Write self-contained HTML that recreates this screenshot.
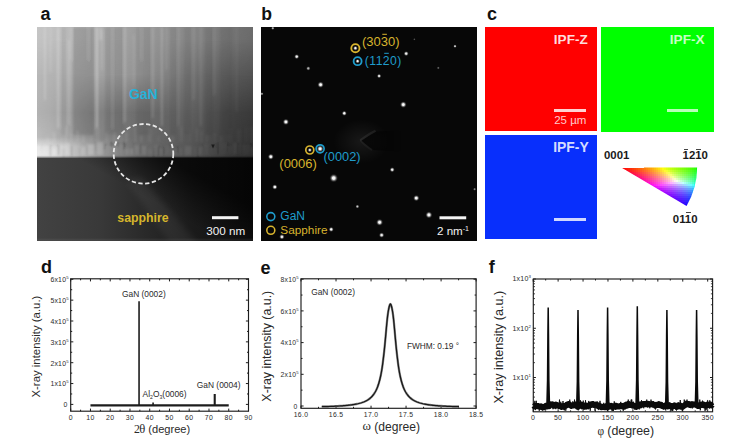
<!DOCTYPE html>
<html><head><meta charset="utf-8"><title>figure</title>
<style>
html,body{margin:0;padding:0;background:#fff;}
body{width:752px;height:446px;position:relative;overflow:hidden;font-family:"Liberation Sans",sans-serif;}
.abs{position:absolute;}
.lbl{position:absolute;font-weight:bold;font-size:18px;line-height:18px;color:#111;}
.t{position:absolute;white-space:nowrap;line-height:1;}
svg{position:absolute;left:0;top:0;}
svg text{font-family:"Liberation Sans",sans-serif;}
svg text.sf{font-family:"Liberation Serif",serif;}
</style></head><body>

<div class="lbl" style="left:40.5px;top:4.5px;font-size:18px;">a</div>
<div class="lbl" style="left:261.2px;top:4.800000000000001px;font-size:17.6px;">b</div>
<div class="lbl" style="left:487px;top:4.600000000000001px;font-size:18px;">c</div>
<div class="lbl" style="left:40.9px;top:258.0px;font-size:18px;">d</div>
<div class="lbl" style="left:260.5px;top:258.8px;font-size:18px;">e</div>
<div class="lbl" style="left:488.7px;top:257.8px;font-size:18px;">f</div>
<svg width="752" height="446" viewBox="0 0 752 446">
<defs><clipPath id="ca"><rect x="37" y="27" width="216" height="214"/></clipPath>
<linearGradient id="ar0" gradientUnits="userSpaceOnUse" x1="37" x2="253" y1="0" y2="0"><stop offset="0.0000" stop-color="#c6c6c6"/><stop offset="0.0602" stop-color="#c2c2c2"/><stop offset="0.2917" stop-color="#acacac"/><stop offset="0.4769" stop-color="#9c9c9c"/><stop offset="0.7083" stop-color="#888888"/><stop offset="0.9167" stop-color="#727272"/><stop offset="1.0000" stop-color="#6c6c6c"/></linearGradient>
<linearGradient id="ar1" gradientUnits="userSpaceOnUse" x1="37" x2="253" y1="0" y2="0"><stop offset="0.0000" stop-color="#c4c4c4"/><stop offset="0.0602" stop-color="#c0c0c0"/><stop offset="0.2917" stop-color="#aaaaaa"/><stop offset="0.4769" stop-color="#9a9a9a"/><stop offset="0.7083" stop-color="#868686"/><stop offset="0.9167" stop-color="#707070"/><stop offset="1.0000" stop-color="#6a6a6a"/></linearGradient>
<linearGradient id="am1" gradientUnits="userSpaceOnUse" x1="0" x2="0" y1="27" y2="40"><stop offset="0" stop-color="#fff" stop-opacity="0"/><stop offset="1" stop-color="#fff" stop-opacity="1"/></linearGradient>
<mask id="amk1" maskUnits="userSpaceOnUse" x="37" y="27" width="216" height="214"><rect x="37" y="27" width="216" height="214" fill="url(#am1)"/></mask>
<linearGradient id="ar2" gradientUnits="userSpaceOnUse" x1="37" x2="253" y1="0" y2="0"><stop offset="0.0000" stop-color="#b8b8b8"/><stop offset="0.0602" stop-color="#b4b4b4"/><stop offset="0.2917" stop-color="#a2a2a2"/><stop offset="0.4769" stop-color="#929292"/><stop offset="0.7083" stop-color="#727272"/><stop offset="0.9167" stop-color="#585858"/><stop offset="1.0000" stop-color="#525252"/></linearGradient>
<linearGradient id="am2" gradientUnits="userSpaceOnUse" x1="0" x2="0" y1="40" y2="75"><stop offset="0" stop-color="#fff" stop-opacity="0"/><stop offset="1" stop-color="#fff" stop-opacity="1"/></linearGradient>
<mask id="amk2" maskUnits="userSpaceOnUse" x="37" y="27" width="216" height="214"><rect x="37" y="40" width="216" height="201" fill="url(#am2)"/></mask>
<linearGradient id="ar3" gradientUnits="userSpaceOnUse" x1="37" x2="253" y1="0" y2="0"><stop offset="0.0000" stop-color="#b2b2b2"/><stop offset="0.0602" stop-color="#acacac"/><stop offset="0.2917" stop-color="#828282"/><stop offset="0.4769" stop-color="#6c6c6c"/><stop offset="0.7083" stop-color="#606060"/><stop offset="0.9167" stop-color="#404040"/><stop offset="1.0000" stop-color="#3a3a3a"/></linearGradient>
<linearGradient id="am3" gradientUnits="userSpaceOnUse" x1="0" x2="0" y1="75" y2="112"><stop offset="0" stop-color="#fff" stop-opacity="0"/><stop offset="1" stop-color="#fff" stop-opacity="1"/></linearGradient>
<mask id="amk3" maskUnits="userSpaceOnUse" x="37" y="27" width="216" height="214"><rect x="37" y="75" width="216" height="166" fill="url(#am3)"/></mask>
<linearGradient id="ar4" gradientUnits="userSpaceOnUse" x1="37" x2="253" y1="0" y2="0"><stop offset="0.0000" stop-color="#bababa"/><stop offset="0.0602" stop-color="#b4b4b4"/><stop offset="0.2917" stop-color="#868686"/><stop offset="0.4769" stop-color="#6a6a6a"/><stop offset="0.7083" stop-color="#585858"/><stop offset="0.9167" stop-color="#3a3a3a"/><stop offset="1.0000" stop-color="#343434"/></linearGradient>
<linearGradient id="am4" gradientUnits="userSpaceOnUse" x1="0" x2="0" y1="112" y2="137"><stop offset="0" stop-color="#fff" stop-opacity="0"/><stop offset="1" stop-color="#fff" stop-opacity="1"/></linearGradient>
<mask id="amk4" maskUnits="userSpaceOnUse" x="37" y="27" width="216" height="214"><rect x="37" y="112" width="216" height="129" fill="url(#am4)"/></mask>
<linearGradient id="ar5" gradientUnits="userSpaceOnUse" x1="37" x2="253" y1="0" y2="0"><stop offset="0.0000" stop-color="#e4e4e4"/><stop offset="0.0602" stop-color="#dedede"/><stop offset="0.2917" stop-color="#969696"/><stop offset="0.4769" stop-color="#6c6c6c"/><stop offset="0.7083" stop-color="#565656"/><stop offset="0.9167" stop-color="#373737"/><stop offset="1.0000" stop-color="#313131"/></linearGradient>
<linearGradient id="am5" gradientUnits="userSpaceOnUse" x1="0" x2="0" y1="137" y2="147"><stop offset="0" stop-color="#fff" stop-opacity="0"/><stop offset="1" stop-color="#fff" stop-opacity="1"/></linearGradient>
<mask id="amk5" maskUnits="userSpaceOnUse" x="37" y="27" width="216" height="214"><rect x="37" y="137" width="216" height="104" fill="url(#am5)"/></mask>
<linearGradient id="ar6" gradientUnits="userSpaceOnUse" x1="37" x2="253" y1="0" y2="0"><stop offset="0.0000" stop-color="#eaeaea"/><stop offset="0.0602" stop-color="#e4e4e4"/><stop offset="0.2917" stop-color="#989898"/><stop offset="0.4769" stop-color="#686868"/><stop offset="0.7083" stop-color="#545454"/><stop offset="0.9167" stop-color="#343434"/><stop offset="1.0000" stop-color="#2e2e2e"/></linearGradient>
<linearGradient id="am6" gradientUnits="userSpaceOnUse" x1="0" x2="0" y1="147" y2="157.5"><stop offset="0" stop-color="#fff" stop-opacity="0"/><stop offset="1" stop-color="#fff" stop-opacity="1"/></linearGradient>
<mask id="amk6" maskUnits="userSpaceOnUse" x="37" y="27" width="216" height="214"><rect x="37" y="147" width="216" height="94" fill="url(#am6)"/></mask>
<linearGradient id="aS" gradientUnits="userSpaceOnUse" x1="37" x2="253" y1="0" y2="0"><stop offset="0" stop-color="#424242"/><stop offset="0.29" stop-color="#393939"/><stop offset="0.48" stop-color="#2b2b2b"/><stop offset="0.71" stop-color="#1b1b1b"/><stop offset="1" stop-color="#0f0f0f"/></linearGradient>
<linearGradient id="aD" gradientUnits="userSpaceOnUse" x1="172.6" y1="213" x2="194.9" y2="174"><stop offset="0" stop-color="#000" stop-opacity="0"/><stop offset="0.35" stop-color="#000" stop-opacity="0.22"/><stop offset="1" stop-color="#000" stop-opacity="0.66"/></linearGradient>
<filter id="ab" x="-20%" y="-20%" width="140%" height="140%"><feGaussianBlur stdDeviation="0.9 1.6"/></filter>
<filter id="ab2" x="-20%" y="-20%" width="140%" height="140%"><feGaussianBlur stdDeviation="0.8"/></filter>
<filter id="ab3" x="-30%" y="-30%" width="160%" height="160%"><feGaussianBlur stdDeviation="3"/></filter>
</defs>
<g clip-path="url(#ca)">
<rect x="37" y="27" width="216" height="131" fill="url(#ar0)"/>
<rect x="37" y="27" width="216" height="131" fill="url(#ar1)" mask="url(#amk1)"/>
<rect x="37" y="27" width="216" height="131" fill="url(#ar2)" mask="url(#amk2)"/>
<rect x="37" y="27" width="216" height="131" fill="url(#ar3)" mask="url(#amk3)"/>
<rect x="37" y="27" width="216" height="131" fill="url(#ar4)" mask="url(#amk4)"/>
<rect x="37" y="27" width="216" height="131" fill="url(#ar5)" mask="url(#amk5)"/>
<rect x="37" y="27" width="216" height="131" fill="url(#ar6)" mask="url(#amk6)"/>
<g filter="url(#ab)">
<rect x="44" y="27" width="1.8" height="73" fill="#fff" opacity="0.2"/>
<rect x="50" y="27" width="1.2" height="45" fill="#fff" opacity="0.14"/>
<rect x="57" y="27" width="2.4" height="101" fill="#fff" opacity="0.22"/>
<rect x="68" y="40" width="1.6" height="85" fill="#fff" opacity="0.2"/>
<rect x="70" y="27" width="1.2" height="33" fill="#fff" opacity="0.15"/>
<rect x="96" y="27" width="2.0" height="101" fill="#fff" opacity="0.3"/>
<rect x="99.5" y="27" width="2.5" height="13" fill="#fff" opacity="0.2"/>
<rect x="88" y="27" width="1.2" height="33" fill="#fff" opacity="0.14"/>
<rect x="101" y="30" width="1.5" height="40" fill="#fff" opacity="0.16"/>
<rect x="112" y="27" width="1.4" height="101" fill="#fff" opacity="0.14"/>
<rect x="124" y="27" width="1.6" height="95" fill="#fff" opacity="0.22"/>
<rect x="133" y="35" width="1.2" height="50" fill="#fff" opacity="0.12"/>
<rect x="141" y="27" width="1.2" height="33" fill="#fff" opacity="0.12"/>
<rect x="152" y="27" width="1.5" height="91" fill="#fff" opacity="0.18"/>
<rect x="161" y="27" width="1.6" height="99" fill="#fff" opacity="0.22"/>
<rect x="166" y="27" width="1.2" height="43" fill="#fff" opacity="0.14"/>
<rect x="178" y="27" width="1.3" height="99" fill="#fff" opacity="0.12"/>
<rect x="193" y="27" width="1.4" height="73" fill="#fff" opacity="0.12"/>
<rect x="200" y="27" width="1.4" height="99" fill="#fff" opacity="0.12"/>
<rect x="214" y="27" width="1.3" height="68" fill="#fff" opacity="0.1"/>
<rect x="236" y="27" width="1.3" height="85" fill="#fff" opacity="0.07"/>
<rect x="61" y="27" width="5" height="108" fill="#000" opacity="0.05"/>
<rect x="73" y="27" width="21" height="108" fill="#000" opacity="0.13"/>
<rect x="105" y="27" width="19" height="108" fill="#000" opacity="0.08"/>
<rect x="136" y="27" width="8" height="108" fill="#000" opacity="0.05"/>
<rect x="144" y="27" width="7" height="108" fill="#000" opacity="0.06"/>
<rect x="170" y="27" width="7" height="108" fill="#000" opacity="0.05"/>
<rect x="184" y="27" width="7" height="108" fill="#000" opacity="0.06"/>
<rect x="205" y="27" width="8" height="108" fill="#000" opacity="0.06"/>
<rect x="220" y="27" width="12" height="108" fill="#000" opacity="0.05"/>
</g>
<g filter="url(#ab2)">
<rect x="37.0" y="145.2" width="3.6" height="9.8" fill="#fff" opacity="0.14"/>
<rect x="40.6" y="144.0" width="2.1" height="5.5" fill="#000" opacity="0.05"/>
<rect x="42.7" y="147.2" width="6.3" height="7.8" fill="#fff" opacity="0.10"/>
<rect x="49.0" y="145.2" width="3.0" height="10.9" fill="#000" opacity="0.13"/>
<rect x="52.0" y="147.9" width="5.4" height="7.1" fill="#fff" opacity="0.19"/>
<rect x="57.3" y="144.8" width="2.7" height="10.2" fill="#000" opacity="0.16"/>
<rect x="60.0" y="143.7" width="2.8" height="11.3" fill="#fff" opacity="0.17"/>
<rect x="62.8" y="148.8" width="1.5" height="11.1" fill="#000" opacity="0.13"/>
<rect x="64.3" y="142.8" width="5.7" height="12.2" fill="#fff" opacity="0.19"/>
<rect x="70.0" y="145.8" width="2.8" height="10.6" fill="#000" opacity="0.13"/>
<rect x="72.9" y="142.8" width="6.7" height="12.2" fill="#fff" opacity="0.05"/>
<rect x="79.6" y="147.3" width="1.1" height="11.8" fill="#000" opacity="0.12"/>
<rect x="80.7" y="146.9" width="5.3" height="8.1" fill="#fff" opacity="0.13"/>
<rect x="86.0" y="146.2" width="1.6" height="9.1" fill="#000" opacity="0.15"/>
<rect x="87.6" y="144.2" width="6.6" height="10.8" fill="#fff" opacity="0.20"/>
<rect x="94.2" y="141.1" width="2.7" height="9.7" fill="#000" opacity="0.08"/>
<rect x="96.9" y="142.2" width="6.4" height="12.8" fill="#fff" opacity="0.18"/>
<rect x="103.3" y="143.3" width="2.1" height="6.5" fill="#000" opacity="0.19"/>
<rect x="105.3" y="147.0" width="5.1" height="8.0" fill="#fff" opacity="0.03"/>
<rect x="110.4" y="141.1" width="2.7" height="5.6" fill="#000" opacity="0.19"/>
<rect x="113.1" y="147.9" width="4.3" height="7.1" fill="#fff" opacity="0.06"/>
<rect x="117.4" y="142.0" width="2.5" height="5.3" fill="#000" opacity="0.15"/>
<rect x="119.9" y="144.0" width="2.7" height="11.0" fill="#fff" opacity="0.06"/>
<rect x="122.6" y="141.2" width="2.7" height="8.5" fill="#000" opacity="0.22"/>
<rect x="125.4" y="148.5" width="3.9" height="6.5" fill="#fff" opacity="0.09"/>
<rect x="129.2" y="147.4" width="0.9" height="7.9" fill="#000" opacity="0.15"/>
<rect x="130.1" y="148.7" width="3.2" height="6.3" fill="#fff" opacity="0.12"/>
<rect x="133.3" y="141.3" width="1.5" height="11.3" fill="#000" opacity="0.11"/>
<rect x="134.8" y="145.4" width="4.6" height="9.6" fill="#fff" opacity="0.09"/>
<rect x="139.4" y="144.5" width="2.1" height="9.3" fill="#000" opacity="0.21"/>
<rect x="141.5" y="146.0" width="4.8" height="9.0" fill="#fff" opacity="0.09"/>
<rect x="146.3" y="146.6" width="1.3" height="11.8" fill="#000" opacity="0.14"/>
<rect x="147.6" y="148.9" width="5.0" height="6.1" fill="#fff" opacity="0.05"/>
<rect x="152.6" y="148.8" width="2.1" height="9.3" fill="#000" opacity="0.16"/>
<rect x="154.6" y="144.6" width="2.8" height="10.4" fill="#fff" opacity="0.05"/>
<rect x="157.4" y="146.2" width="2.3" height="9.9" fill="#000" opacity="0.18"/>
<rect x="159.7" y="148.6" width="2.6" height="6.4" fill="#fff" opacity="0.06"/>
<rect x="162.3" y="147.0" width="2.9" height="8.2" fill="#000" opacity="0.15"/>
<rect x="165.2" y="146.5" width="3.9" height="8.5" fill="#fff" opacity="0.03"/>
<rect x="169.2" y="144.2" width="1.6" height="7.1" fill="#000" opacity="0.11"/>
<rect x="170.8" y="148.8" width="6.0" height="6.2" fill="#fff" opacity="0.05"/>
<rect x="176.7" y="146.5" width="2.4" height="6.6" fill="#000" opacity="0.19"/>
<rect x="179.2" y="147.7" width="3.6" height="7.3" fill="#fff" opacity="0.04"/>
<rect x="182.7" y="148.2" width="2.3" height="7.3" fill="#000" opacity="0.11"/>
<rect x="185.1" y="145.9" width="6.3" height="9.1" fill="#fff" opacity="0.07"/>
<rect x="191.3" y="146.3" width="1.2" height="9.6" fill="#000" opacity="0.20"/>
<rect x="192.5" y="147.4" width="4.5" height="7.6" fill="#fff" opacity="0.02"/>
<rect x="197.0" y="147.5" width="2.0" height="10.6" fill="#000" opacity="0.19"/>
<rect x="199.0" y="147.0" width="3.3" height="8.0" fill="#fff" opacity="0.06"/>
<rect x="202.3" y="142.5" width="2.2" height="7.4" fill="#000" opacity="0.07"/>
<rect x="204.5" y="143.4" width="3.8" height="11.6" fill="#fff" opacity="0.03"/>
<rect x="208.3" y="145.7" width="1.6" height="7.9" fill="#000" opacity="0.12"/>
<rect x="209.9" y="147.9" width="6.6" height="7.1" fill="#fff" opacity="0.01"/>
<rect x="216.6" y="142.0" width="2.9" height="11.9" fill="#000" opacity="0.12"/>
<rect x="219.4" y="142.5" width="6.8" height="12.5" fill="#fff" opacity="0.02"/>
<rect x="226.2" y="142.3" width="2.4" height="9.6" fill="#000" opacity="0.14"/>
<rect x="228.6" y="146.6" width="3.8" height="8.4" fill="#fff" opacity="0.02"/>
<rect x="232.4" y="144.3" width="0.9" height="7.0" fill="#000" opacity="0.19"/>
<rect x="233.4" y="142.7" width="2.7" height="12.3" fill="#fff" opacity="0.06"/>
<rect x="236.1" y="141.8" width="2.8" height="11.3" fill="#000" opacity="0.15"/>
<rect x="238.9" y="143.8" width="2.6" height="11.2" fill="#fff" opacity="0.02"/>
<rect x="241.5" y="143.7" width="1.5" height="8.7" fill="#000" opacity="0.12"/>
<rect x="242.9" y="144.7" width="6.7" height="10.3" fill="#fff" opacity="0.03"/>
<rect x="249.7" y="142.1" width="1.4" height="8.3" fill="#000" opacity="0.18"/>
<rect x="251.0" y="147.6" width="4.1" height="7.4" fill="#fff" opacity="0.04"/>
<rect x="255.1" y="147.6" width="2.6" height="10.5" fill="#000" opacity="0.21"/>
<rect x="37.0" y="127.9" width="3.5" height="14.1" fill="#fff" opacity="0.04"/>
<rect x="45.7" y="136.5" width="3.7" height="5.5" fill="#fff" opacity="0.07"/>
<rect x="52.7" y="132.3" width="2.8" height="9.7" fill="#fff" opacity="0.10"/>
<rect x="61.4" y="136.4" width="1.5" height="5.6" fill="#fff" opacity="0.05"/>
<rect x="65.5" y="126.3" width="1.7" height="15.7" fill="#fff" opacity="0.14"/>
<rect x="69.6" y="133.5" width="2.8" height="8.5" fill="#fff" opacity="0.07"/>
<rect x="76.1" y="130.5" width="3.1" height="11.5" fill="#fff" opacity="0.07"/>
<rect x="82.2" y="135.6" width="2.3" height="6.4" fill="#fff" opacity="0.09"/>
<rect x="90.1" y="136.1" width="2.5" height="5.9" fill="#fff" opacity="0.05"/>
<rect x="96.4" y="128.4" width="3.0" height="13.6" fill="#fff" opacity="0.06"/>
<rect x="105.4" y="132.3" width="3.1" height="9.7" fill="#fff" opacity="0.06"/>
<rect x="112.9" y="132.4" width="3.3" height="9.6" fill="#fff" opacity="0.08"/>
<rect x="120.5" y="131.1" width="2.1" height="10.9" fill="#fff" opacity="0.08"/>
<rect x="125.0" y="132.3" width="2.6" height="9.7" fill="#fff" opacity="0.09"/>
<rect x="134.2" y="127.1" width="2.4" height="14.9" fill="#fff" opacity="0.07"/>
<rect x="140.0" y="135.6" width="2.7" height="6.4" fill="#fff" opacity="0.07"/>
<rect x="147.9" y="128.3" width="3.7" height="13.7" fill="#fff" opacity="0.06"/>
<rect x="157.3" y="135.9" width="2.9" height="6.1" fill="#fff" opacity="0.04"/>
<rect x="162.3" y="128.5" width="1.9" height="13.5" fill="#fff" opacity="0.02"/>
<rect x="166.6" y="127.3" width="1.7" height="14.7" fill="#fff" opacity="0.02"/>
<rect x="170.4" y="135.7" width="3.6" height="6.3" fill="#fff" opacity="0.05"/>
<rect x="179.4" y="126.5" width="3.6" height="15.5" fill="#fff" opacity="0.04"/>
<rect x="189.0" y="128.6" width="1.6" height="13.4" fill="#fff" opacity="0.03"/>
<rect x="196.2" y="128.8" width="1.8" height="13.2" fill="#fff" opacity="0.05"/>
<rect x="200.2" y="130.8" width="2.3" height="11.2" fill="#fff" opacity="0.05"/>
<rect x="205.8" y="134.3" width="1.9" height="7.7" fill="#fff" opacity="0.04"/>
<rect x="213.5" y="133.0" width="2.5" height="9.0" fill="#fff" opacity="0.03"/>
<rect x="219.7" y="136.1" width="2.5" height="5.9" fill="#fff" opacity="0.03"/>
<rect x="229.1" y="128.8" width="2.5" height="13.2" fill="#fff" opacity="0.02"/>
<rect x="237.1" y="129.6" width="3.4" height="12.4" fill="#fff" opacity="0.03"/>
<rect x="244.9" y="127.1" width="3.1" height="14.9" fill="#fff" opacity="0.02"/>
<rect x="250.5" y="126.9" width="3.4" height="15.1" fill="#fff" opacity="0.03"/>
</g>
<rect x="37" y="155.9" width="216" height="1.6" fill="#000" opacity="0.16"/>
<path d="M211.2 144.6l3.6 0l-1.8 3.8z" fill="#141414" opacity="0.85"/>
<rect x="37" y="157.5" width="216" height="84" fill="url(#aS)"/>
<rect x="37" y="157.5" width="216" height="84" fill="url(#aD)"/>
<path d="M126 180 L142 178 L200 246 L172 246 Z" fill="#fff" opacity="0.05" filter="url(#ab3)"/>
<rect x="37" y="238.6" width="216" height="2.4" fill="#fff" opacity="0.05"/>
</g></svg>
<svg width="752" height="446" viewBox="0 0 752 446">
<circle cx="143.5" cy="153.8" r="29.8" fill="none" stroke="#e6e6e6" stroke-width="1.8" stroke-dasharray="4.3 2.5"/>
<rect x="212" y="216.2" width="26.4" height="3" fill="#f4f4f4"/>
</svg>
<div class="t" style="left:128.9px;top:87.0px;font-size:14px;font-weight:bold;color:#27b2d8;">GaN</div>
<div class="t" style="left:117.3px;top:211.6px;font-size:12.3px;font-weight:bold;color:#d6b62c;">sapphire</div>
<div class="t" style="left:206.2px;top:224.6px;font-size:11.7px;color:#f2f2f2;">300 nm</div>
<div class="abs" style="left:260.5px;top:27.3px;width:216px;height:213.5px;background:#070707;"></div>
<div class="abs" style="left:330px;top:115px;width:70px;height:55px;background:radial-gradient(ellipse 28px 22px at 45% 48%,rgba(255,255,255,0.07),rgba(255,255,255,0) 100%);"></div>
<svg width="752" height="446" viewBox="0 0 752 446"><defs><filter id="bl" x="-50%" y="-50%" width="200%" height="200%"><feGaussianBlur stdDeviation="0.75"/></filter></defs>
<defs><linearGradient id="wg" gradientUnits="userSpaceOnUse" x1="361" x2="404" y1="0" y2="0"><stop offset="0" stop-color="#040404" stop-opacity="0.7"/><stop offset="0.5" stop-color="#040404" stop-opacity="0.45"/><stop offset="1" stop-color="#040404" stop-opacity="0"/></linearGradient></defs>
<path d="M361 140.4 L376 131.5 L404 130 L404 152 L373 150 Z" fill="url(#wg)" filter="url(#bl)"/>
<path d="M360.3 140.4 L365 137 Q370 133.6 375.5 130.8" stroke="#fff" stroke-width="2.4" fill="none" opacity="0.065" filter="url(#bl)"/>
<path d="M360.3 140.4 L364.5 144.6 Q368 147.8 372 150" stroke="#fff" stroke-width="2.0" fill="none" opacity="0.035" filter="url(#bl)"/>
<defs><radialGradient id="sp"><stop offset="0" stop-color="#fff" stop-opacity="1"/><stop offset="0.3" stop-color="#fff" stop-opacity="0.95"/><stop offset="0.55" stop-color="#fff" stop-opacity="0.45"/><stop offset="0.8" stop-color="#fff" stop-opacity="0.1"/><stop offset="1" stop-color="#fff" stop-opacity="0"/></radialGradient></defs>
<circle cx="272.8" cy="28.2" r="1.85" fill="url(#sp)" opacity="0.7"/>
<circle cx="296.7" cy="56.6" r="2.62" fill="url(#sp)" opacity="0.95"/>
<circle cx="308.3" cy="68.4" r="2.31" fill="url(#sp)" opacity="0.7"/>
<circle cx="320.6" cy="84.7" r="3.24" fill="url(#sp)" opacity="1"/>
<circle cx="261.9" cy="93.8" r="1.85" fill="url(#sp)" opacity="0.6"/>
<circle cx="344.3" cy="113.3" r="2.62" fill="url(#sp)" opacity="1"/>
<circle cx="285.9" cy="121.9" r="3.24" fill="url(#sp)" opacity="1"/>
<circle cx="406.2" cy="53.6" r="2.62" fill="url(#sp)" opacity="0.95"/>
<circle cx="455" cy="46.2" r="1.85" fill="url(#sp)" opacity="0.8"/>
<circle cx="438.3" cy="67.9" r="1.70" fill="url(#sp)" opacity="0.35"/>
<circle cx="379.1" cy="76" r="2.31" fill="url(#sp)" opacity="0.9"/>
<circle cx="403.3" cy="104.6" r="3.40" fill="url(#sp)" opacity="1"/>
<circle cx="414.4" cy="39.3" r="1.39" fill="url(#sp)" opacity="0.3"/>
<circle cx="270.8" cy="156.7" r="3.09" fill="url(#sp)" opacity="1"/>
<circle cx="333.7" cy="178.1" r="4.33" fill="url(#sp)" opacity="1"/>
<circle cx="274.8" cy="187" r="2.78" fill="url(#sp)" opacity="1"/>
<circle cx="357.4" cy="206.5" r="2.01" fill="url(#sp)" opacity="0.8"/>
<circle cx="331.2" cy="229.4" r="2.62" fill="url(#sp)" opacity="1"/>
<circle cx="281.9" cy="236.8" r="2.78" fill="url(#sp)" opacity="0.95"/>
<circle cx="392.2" cy="169.7" r="2.62" fill="url(#sp)" opacity="0.95"/>
<circle cx="416.3" cy="198.1" r="3.24" fill="url(#sp)" opacity="1"/>
<circle cx="428.9" cy="214.9" r="3.56" fill="url(#sp)" opacity="1"/>
<circle cx="379.6" cy="222.3" r="3.56" fill="url(#sp)" opacity="1"/>
<circle cx="381.6" cy="235.1" r="2.78" fill="url(#sp)" opacity="0.95"/>
<circle cx="474.6" cy="189.2" r="1.70" fill="url(#sp)" opacity="0.5"/>
<circle cx="355.4" cy="48.2" r="2.47" fill="url(#sp)" opacity="1"/>
<circle cx="357.6" cy="61.2" r="2.31" fill="url(#sp)" opacity="1"/>
<circle cx="309.8" cy="150" r="2.31" fill="url(#sp)" opacity="0.9"/>
<circle cx="320.1" cy="148.8" r="3.56" fill="url(#sp)" opacity="1"/>
<circle cx="355.4" cy="48.2" r="4.1" fill="none" stroke="#d8b42e" stroke-width="1.9"/>
<circle cx="357.6" cy="61.2" r="4.0" fill="none" stroke="#1f9ccb" stroke-width="1.8"/>
<circle cx="309.8" cy="150" r="4.0" fill="none" stroke="#d8b42e" stroke-width="1.7"/>
<circle cx="320.1" cy="148.8" r="4.0" fill="none" stroke="#1f9ccb" stroke-width="1.7"/>
<circle cx="270.8" cy="216.6" r="4.0" fill="none" stroke="#1f9ccb" stroke-width="1.6"/>
<circle cx="270.8" cy="230.3" r="4.0" fill="none" stroke="#d8b42e" stroke-width="1.6"/>
<rect x="439.5" y="216.3" width="26.7" height="3" fill="#f4f4f4"/>
<rect x="382.3" y="33.8" width="4.6" height="1" fill="#d8b42e"/>
<rect x="384.2" y="52.8" width="4.6" height="1" fill="#1f9ccb"/>
</svg>
<div class="t" style="left:362px;top:35.3px;font-size:13px;color:#d8b42e;">(3030)</div>
<div class="t" style="left:364.8px;top:54.5px;font-size:12.2px;letter-spacing:0.45px;color:#1f9ccb;">(1120)</div>
<div class="t" style="left:279.3px;top:156.8px;font-size:13px;color:#d8b42e;">(0006)</div>
<div class="t" style="left:323.6px;top:151px;font-size:12.8px;color:#1f9ccb;">(0002)</div>
<div class="t" style="left:280.3px;top:209.8px;font-size:12px;color:#1f9ccb;">GaN</div>
<div class="t" style="left:280.3px;top:224.5px;font-size:11.8px;color:#d8b42e;">Sapphire</div>
<div class="t" style="left:437px;top:225.3px;font-size:11.6px;color:#f2f2f2;">2 nm<span style="font-size:7px;position:relative;top:-4.5px;">-1</span></div>
<div class="abs" style="left:485px;top:27px;width:112.3px;height:104.2px;background:#ff0000;"></div>
<div class="abs" style="left:601.4px;top:27px;width:112.4px;height:104.8px;background:#00ff00;"></div>
<div class="abs" style="left:484.8px;top:134.5px;width:112.3px;height:104.9px;background:#082ffc;"></div>
<div class="t" style="left:553.8px;top:32.6px;font-size:13.6px;font-weight:bold;color:#ffdcdc;">IPF-Z</div>
<div class="t" style="left:669.8px;top:32.6px;font-size:13.6px;font-weight:bold;color:#c4ffc4;">IPF-X</div>
<div class="t" style="left:553.2px;top:141.2px;font-size:13.9px;font-weight:bold;color:#d4dcff;">IPF-Y</div>
<div class="abs" style="left:553.5px;top:109.3px;width:32.3px;height:3px;background:#ffd2d2;"></div>
<div class="abs" style="left:666.8px;top:109.3px;width:31.3px;height:3px;background:#b8ffb8;"></div>
<div class="abs" style="left:553.7px;top:217.5px;width:32px;height:3px;background:#d0d8ff;"></div>
<div class="t" style="left:554.2px;top:115.2px;font-size:11.5px;color:#ffcaca;">25 µm</div>
<svg width="752" height="446" viewBox="0 0 752 446" shape-rendering="crispEdges"><defs><clipPath id="sec"><path d="M621.3 167.6 L697.1 167.6 A75.8 75.8 0 0 1 686.6 205.9 Z"/></clipPath></defs><g clip-path="url(#sec)">
<rect x="644" y="166" width="2" height="2" fill="#ff8400"/>
<rect x="646" y="166" width="2" height="2" fill="#ff9000"/>
<rect x="648" y="166" width="2" height="2" fill="#ff9d00"/>
<rect x="650" y="166" width="2" height="2" fill="#ffaa00"/>
<rect x="652" y="166" width="2" height="2" fill="#ffb800"/>
<rect x="654" y="166" width="2" height="2" fill="#ffc600"/>
<rect x="656" y="166" width="2" height="2" fill="#ffd400"/>
<rect x="658" y="166" width="2" height="2" fill="#ffe400"/>
<rect x="660" y="166" width="2" height="2" fill="#fff400"/>
<rect x="662" y="166" width="2" height="2" fill="#faff00"/>
<rect x="664" y="166" width="2" height="2" fill="#e9ff00"/>
<rect x="666" y="166" width="2" height="2" fill="#daff00"/>
<rect x="668" y="166" width="2" height="2" fill="#ccff00"/>
<rect x="670" y="166" width="2" height="2" fill="#bfff00"/>
<rect x="672" y="166" width="2" height="2" fill="#b3ff00"/>
<rect x="674" y="166" width="2" height="2" fill="#a7ff00"/>
<rect x="676" y="166" width="2" height="2" fill="#9bff00"/>
<rect x="678" y="166" width="2" height="2" fill="#90ff00"/>
<rect x="680" y="166" width="2" height="2" fill="#85ff00"/>
<rect x="682" y="166" width="2" height="2" fill="#7bff00"/>
<rect x="684" y="166" width="2" height="2" fill="#70ff00"/>
<rect x="686" y="166" width="2" height="2" fill="#65ff00"/>
<rect x="688" y="166" width="2" height="2" fill="#5aff00"/>
<rect x="690" y="166" width="2" height="2" fill="#4eff00"/>
<rect x="692" y="166" width="2" height="2" fill="#41ff00"/>
<rect x="694" y="166" width="2" height="2" fill="#30ff00"/>
<rect x="696" y="166" width="2" height="2" fill="#0dff00"/>
<rect x="698" y="166" width="2" height="2" fill="#00ff00"/>
<rect x="622" y="168" width="2" height="2" fill="#ff020c"/>
<rect x="624" y="168" width="2" height="2" fill="#ff0e0c"/>
<rect x="626" y="168" width="2" height="2" fill="#ff190c"/>
<rect x="628" y="168" width="2" height="2" fill="#ff230c"/>
<rect x="630" y="168" width="2" height="2" fill="#ff2e0c"/>
<rect x="632" y="168" width="2" height="2" fill="#ff390c"/>
<rect x="634" y="168" width="2" height="2" fill="#ff440c"/>
<rect x="636" y="168" width="2" height="2" fill="#ff4e0d"/>
<rect x="638" y="168" width="2" height="2" fill="#ff5a0d"/>
<rect x="640" y="168" width="2" height="2" fill="#ff650d"/>
<rect x="642" y="168" width="2" height="2" fill="#ff700d"/>
<rect x="644" y="168" width="2" height="2" fill="#ff7c0d"/>
<rect x="646" y="168" width="2" height="2" fill="#ff890e"/>
<rect x="648" y="168" width="2" height="2" fill="#ff950e"/>
<rect x="650" y="168" width="2" height="2" fill="#ffa20e"/>
<rect x="652" y="168" width="2" height="2" fill="#ffaf0e"/>
<rect x="654" y="168" width="2" height="2" fill="#ffbd0f"/>
<rect x="656" y="168" width="2" height="2" fill="#ffcc0f"/>
<rect x="658" y="168" width="2" height="2" fill="#ffdb0f"/>
<rect x="660" y="168" width="2" height="2" fill="#ffeb10"/>
<rect x="662" y="168" width="2" height="2" fill="#fffc10"/>
<rect x="664" y="168" width="2" height="2" fill="#f1ff0f"/>
<rect x="666" y="168" width="2" height="2" fill="#e1ff0f"/>
<rect x="668" y="168" width="2" height="2" fill="#d3ff0e"/>
<rect x="670" y="168" width="2" height="2" fill="#c5ff0e"/>
<rect x="672" y="168" width="2" height="2" fill="#b8ff0d"/>
<rect x="674" y="168" width="2" height="2" fill="#abff0d"/>
<rect x="676" y="168" width="2" height="2" fill="#9fff0c"/>
<rect x="678" y="168" width="2" height="2" fill="#94ff0c"/>
<rect x="680" y="168" width="2" height="2" fill="#88ff0c"/>
<rect x="682" y="168" width="2" height="2" fill="#7dff0b"/>
<rect x="684" y="168" width="2" height="2" fill="#73ff0b"/>
<rect x="686" y="168" width="2" height="2" fill="#67ff0b"/>
<rect x="688" y="168" width="2" height="2" fill="#5cff0a"/>
<rect x="690" y="168" width="2" height="2" fill="#50ff0a"/>
<rect x="692" y="168" width="2" height="2" fill="#42ff0a"/>
<rect x="694" y="168" width="2" height="2" fill="#31ff0a"/>
<rect x="696" y="168" width="2" height="2" fill="#0eff09"/>
<rect x="698" y="168" width="2" height="2" fill="#00ff09"/>
<rect x="626" y="170" width="2" height="2" fill="#ff0626"/>
<rect x="628" y="170" width="2" height="2" fill="#ff1126"/>
<rect x="630" y="170" width="2" height="2" fill="#ff1c26"/>
<rect x="632" y="170" width="2" height="2" fill="#ff2726"/>
<rect x="634" y="170" width="2" height="2" fill="#ff3127"/>
<rect x="636" y="170" width="2" height="2" fill="#ff3c27"/>
<rect x="638" y="170" width="2" height="2" fill="#ff4728"/>
<rect x="640" y="170" width="2" height="2" fill="#ff5328"/>
<rect x="642" y="170" width="2" height="2" fill="#ff5e29"/>
<rect x="644" y="170" width="2" height="2" fill="#ff6a2a"/>
<rect x="646" y="170" width="2" height="2" fill="#ff762a"/>
<rect x="648" y="170" width="2" height="2" fill="#ff822b"/>
<rect x="650" y="170" width="2" height="2" fill="#ff8f2c"/>
<rect x="652" y="170" width="2" height="2" fill="#ff9c2c"/>
<rect x="654" y="170" width="2" height="2" fill="#ffaa2d"/>
<rect x="656" y="170" width="2" height="2" fill="#ffb82e"/>
<rect x="658" y="170" width="2" height="2" fill="#ffc72f"/>
<rect x="660" y="170" width="2" height="2" fill="#ffd730"/>
<rect x="662" y="170" width="2" height="2" fill="#ffe731"/>
<rect x="664" y="170" width="2" height="2" fill="#fff832"/>
<rect x="666" y="170" width="2" height="2" fill="#f4ff31"/>
<rect x="668" y="170" width="2" height="2" fill="#e3ff2f"/>
<rect x="670" y="170" width="2" height="2" fill="#d3ff2d"/>
<rect x="672" y="170" width="2" height="2" fill="#c5ff2c"/>
<rect x="674" y="170" width="2" height="2" fill="#b7ff2a"/>
<rect x="676" y="170" width="2" height="2" fill="#aaff29"/>
<rect x="678" y="170" width="2" height="2" fill="#9dff27"/>
<rect x="680" y="170" width="2" height="2" fill="#91ff26"/>
<rect x="682" y="170" width="2" height="2" fill="#85ff25"/>
<rect x="684" y="170" width="2" height="2" fill="#79ff24"/>
<rect x="686" y="170" width="2" height="2" fill="#6dff22"/>
<rect x="688" y="170" width="2" height="2" fill="#61ff21"/>
<rect x="690" y="170" width="2" height="2" fill="#54ff21"/>
<rect x="692" y="170" width="2" height="2" fill="#45ff20"/>
<rect x="694" y="170" width="2" height="2" fill="#33ff1f"/>
<rect x="696" y="170" width="2" height="2" fill="#0bff1e"/>
<rect x="698" y="170" width="2" height="2" fill="#00ff1d"/>
<rect x="628" y="172" width="2" height="2" fill="#ff003c"/>
<rect x="630" y="172" width="2" height="2" fill="#ff093f"/>
<rect x="632" y="172" width="2" height="2" fill="#ff1440"/>
<rect x="634" y="172" width="2" height="2" fill="#ff1f40"/>
<rect x="636" y="172" width="2" height="2" fill="#ff2a41"/>
<rect x="638" y="172" width="2" height="2" fill="#ff3541"/>
<rect x="640" y="172" width="2" height="2" fill="#ff4142"/>
<rect x="642" y="172" width="2" height="2" fill="#ff4c43"/>
<rect x="644" y="172" width="2" height="2" fill="#ff5744"/>
<rect x="646" y="172" width="2" height="2" fill="#ff6345"/>
<rect x="648" y="172" width="2" height="2" fill="#ff7046"/>
<rect x="650" y="172" width="2" height="2" fill="#ff7c47"/>
<rect x="652" y="172" width="2" height="2" fill="#ff8948"/>
<rect x="654" y="172" width="2" height="2" fill="#ff974a"/>
<rect x="656" y="172" width="2" height="2" fill="#ffa54b"/>
<rect x="658" y="172" width="2" height="2" fill="#ffb34d"/>
<rect x="660" y="172" width="2" height="2" fill="#ffc24e"/>
<rect x="662" y="172" width="2" height="2" fill="#ffd250"/>
<rect x="664" y="172" width="2" height="2" fill="#ffe352"/>
<rect x="666" y="172" width="2" height="2" fill="#fff554"/>
<rect x="668" y="172" width="2" height="2" fill="#f6ff54"/>
<rect x="670" y="172" width="2" height="2" fill="#e4ff50"/>
<rect x="672" y="172" width="2" height="2" fill="#d3ff4d"/>
<rect x="674" y="172" width="2" height="2" fill="#c4ff49"/>
<rect x="676" y="172" width="2" height="2" fill="#b5ff47"/>
<rect x="678" y="172" width="2" height="2" fill="#a7ff44"/>
<rect x="680" y="172" width="2" height="2" fill="#9aff42"/>
<rect x="682" y="172" width="2" height="2" fill="#8dff3f"/>
<rect x="684" y="172" width="2" height="2" fill="#80ff3d"/>
<rect x="686" y="172" width="2" height="2" fill="#73ff3b"/>
<rect x="688" y="172" width="2" height="2" fill="#66ff39"/>
<rect x="690" y="172" width="2" height="2" fill="#58ff38"/>
<rect x="692" y="172" width="2" height="2" fill="#48ff36"/>
<rect x="694" y="172" width="2" height="2" fill="#35ff35"/>
<rect x="696" y="172" width="2" height="2" fill="#00ff33"/>
<rect x="698" y="172" width="2" height="2" fill="#00ff32"/>
<rect x="632" y="174" width="2" height="2" fill="#ff0059"/>
<rect x="634" y="174" width="2" height="2" fill="#ff0c59"/>
<rect x="636" y="174" width="2" height="2" fill="#ff185a"/>
<rect x="638" y="174" width="2" height="2" fill="#ff235b"/>
<rect x="640" y="174" width="2" height="2" fill="#ff2e5c"/>
<rect x="642" y="174" width="2" height="2" fill="#ff3a5d"/>
<rect x="644" y="174" width="2" height="2" fill="#ff455e"/>
<rect x="646" y="174" width="2" height="2" fill="#ff515f"/>
<rect x="648" y="174" width="2" height="2" fill="#ff5d61"/>
<rect x="650" y="174" width="2" height="2" fill="#ff6a62"/>
<rect x="652" y="174" width="2" height="2" fill="#ff7664"/>
<rect x="654" y="174" width="2" height="2" fill="#ff8466"/>
<rect x="656" y="174" width="2" height="2" fill="#ff9167"/>
<rect x="658" y="174" width="2" height="2" fill="#ffa06a"/>
<rect x="660" y="174" width="2" height="2" fill="#ffaf6c"/>
<rect x="662" y="174" width="2" height="2" fill="#ffbe6e"/>
<rect x="664" y="174" width="2" height="2" fill="#ffcf71"/>
<rect x="666" y="174" width="2" height="2" fill="#ffe074"/>
<rect x="668" y="174" width="2" height="2" fill="#fff377"/>
<rect x="670" y="174" width="2" height="2" fill="#f7ff77"/>
<rect x="672" y="174" width="2" height="2" fill="#e4ff72"/>
<rect x="674" y="174" width="2" height="2" fill="#d2ff6d"/>
<rect x="676" y="174" width="2" height="2" fill="#c2ff68"/>
<rect x="678" y="174" width="2" height="2" fill="#b2ff64"/>
<rect x="680" y="174" width="2" height="2" fill="#a4ff60"/>
<rect x="682" y="174" width="2" height="2" fill="#95ff5d"/>
<rect x="684" y="174" width="2" height="2" fill="#87ff59"/>
<rect x="686" y="174" width="2" height="2" fill="#79ff56"/>
<rect x="688" y="174" width="2" height="2" fill="#6bff53"/>
<rect x="690" y="174" width="2" height="2" fill="#5cff51"/>
<rect x="692" y="174" width="2" height="2" fill="#4bff4e"/>
<rect x="694" y="174" width="2" height="2" fill="#36ff4c"/>
<rect x="696" y="174" width="2" height="2" fill="#00ff4a"/>
<rect x="698" y="174" width="2" height="2" fill="#00ff48"/>
<rect x="634" y="176" width="2" height="2" fill="#ff006b"/>
<rect x="636" y="176" width="2" height="2" fill="#ff0374"/>
<rect x="638" y="176" width="2" height="2" fill="#ff1074"/>
<rect x="640" y="176" width="2" height="2" fill="#ff1c75"/>
<rect x="642" y="176" width="2" height="2" fill="#ff2776"/>
<rect x="644" y="176" width="2" height="2" fill="#ff3378"/>
<rect x="646" y="176" width="2" height="2" fill="#ff3f79"/>
<rect x="648" y="176" width="2" height="2" fill="#ff4b7b"/>
<rect x="650" y="176" width="2" height="2" fill="#ff577d"/>
<rect x="652" y="176" width="2" height="2" fill="#ff647f"/>
<rect x="654" y="176" width="2" height="2" fill="#ff7181"/>
<rect x="656" y="176" width="2" height="2" fill="#ff7e84"/>
<rect x="658" y="176" width="2" height="2" fill="#ff8c86"/>
<rect x="660" y="176" width="2" height="2" fill="#ff9b89"/>
<rect x="662" y="176" width="2" height="2" fill="#ffaa8c"/>
<rect x="664" y="176" width="2" height="2" fill="#ffbb90"/>
<rect x="666" y="176" width="2" height="2" fill="#ffcc93"/>
<rect x="668" y="176" width="2" height="2" fill="#ffde97"/>
<rect x="670" y="176" width="2" height="2" fill="#fff29c"/>
<rect x="672" y="176" width="2" height="2" fill="#f7ff9c"/>
<rect x="674" y="176" width="2" height="2" fill="#e3ff95"/>
<rect x="676" y="176" width="2" height="2" fill="#d1ff8e"/>
<rect x="678" y="176" width="2" height="2" fill="#bfff88"/>
<rect x="680" y="176" width="2" height="2" fill="#afff82"/>
<rect x="682" y="176" width="2" height="2" fill="#9fff7d"/>
<rect x="684" y="176" width="2" height="2" fill="#8fff78"/>
<rect x="686" y="176" width="2" height="2" fill="#80ff74"/>
<rect x="688" y="176" width="2" height="2" fill="#70ff70"/>
<rect x="690" y="176" width="2" height="2" fill="#60ff6c"/>
<rect x="692" y="176" width="2" height="2" fill="#4dff69"/>
<rect x="694" y="176" width="2" height="2" fill="#36ff65"/>
<rect x="696" y="176" width="2" height="2" fill="#00ff62"/>
<rect x="698" y="176" width="2" height="2" fill="#00ff5f"/>
<rect x="638" y="178" width="2" height="2" fill="#ff0089"/>
<rect x="640" y="178" width="2" height="2" fill="#ff0790"/>
<rect x="642" y="178" width="2" height="2" fill="#ff1491"/>
<rect x="644" y="178" width="2" height="2" fill="#ff2092"/>
<rect x="646" y="178" width="2" height="2" fill="#ff2c94"/>
<rect x="648" y="178" width="2" height="2" fill="#ff3896"/>
<rect x="650" y="178" width="2" height="2" fill="#ff4498"/>
<rect x="652" y="178" width="2" height="2" fill="#ff519a"/>
<rect x="654" y="178" width="2" height="2" fill="#ff5e9d"/>
<rect x="656" y="178" width="2" height="2" fill="#ff6ba0"/>
<rect x="658" y="178" width="2" height="2" fill="#ff79a3"/>
<rect x="660" y="178" width="2" height="2" fill="#ff87a6"/>
<rect x="662" y="178" width="2" height="2" fill="#ff96aa"/>
<rect x="664" y="178" width="2" height="2" fill="#ffa6ae"/>
<rect x="666" y="178" width="2" height="2" fill="#ffb7b3"/>
<rect x="668" y="178" width="2" height="2" fill="#ffc9b8"/>
<rect x="670" y="178" width="2" height="2" fill="#ffdcbd"/>
<rect x="672" y="178" width="2" height="2" fill="#fff1c4"/>
<rect x="674" y="178" width="2" height="2" fill="#f7ffc4"/>
<rect x="676" y="178" width="2" height="2" fill="#e1ffba"/>
<rect x="678" y="178" width="2" height="2" fill="#cdffb1"/>
<rect x="680" y="178" width="2" height="2" fill="#bbffa9"/>
<rect x="682" y="178" width="2" height="2" fill="#a9ffa2"/>
<rect x="684" y="178" width="2" height="2" fill="#98ff9b"/>
<rect x="686" y="178" width="2" height="2" fill="#87ff95"/>
<rect x="688" y="178" width="2" height="2" fill="#76ff90"/>
<rect x="690" y="178" width="2" height="2" fill="#64ff8b"/>
<rect x="692" y="178" width="2" height="2" fill="#50ff86"/>
<rect x="694" y="178" width="2" height="2" fill="#35ff81"/>
<rect x="696" y="178" width="2" height="2" fill="#00ff7d"/>
<rect x="698" y="178" width="2" height="2" fill="#00ff79"/>
<rect x="642" y="180" width="2" height="2" fill="#ff00a9"/>
<rect x="644" y="180" width="2" height="2" fill="#ff0bad"/>
<rect x="646" y="180" width="2" height="2" fill="#ff18af"/>
<rect x="648" y="180" width="2" height="2" fill="#ff24b1"/>
<rect x="650" y="180" width="2" height="2" fill="#ff31b3"/>
<rect x="652" y="180" width="2" height="2" fill="#ff3db6"/>
<rect x="654" y="180" width="2" height="2" fill="#ff4ab9"/>
<rect x="656" y="180" width="2" height="2" fill="#ff57bc"/>
<rect x="658" y="180" width="2" height="2" fill="#ff65c0"/>
<rect x="660" y="180" width="2" height="2" fill="#ff73c4"/>
<rect x="662" y="180" width="2" height="2" fill="#ff82c8"/>
<rect x="664" y="180" width="2" height="2" fill="#ff92cd"/>
<rect x="666" y="180" width="2" height="2" fill="#ffa2d2"/>
<rect x="668" y="180" width="2" height="2" fill="#ffb4d8"/>
<rect x="670" y="180" width="2" height="2" fill="#ffc7df"/>
<rect x="672" y="180" width="2" height="2" fill="#ffdbe6"/>
<rect x="674" y="180" width="2" height="2" fill="#fff1ef"/>
<rect x="676" y="180" width="2" height="2" fill="#f5ffee"/>
<rect x="678" y="180" width="2" height="2" fill="#deffe2"/>
<rect x="680" y="180" width="2" height="2" fill="#c9ffd7"/>
<rect x="682" y="180" width="2" height="2" fill="#b5ffcd"/>
<rect x="684" y="180" width="2" height="2" fill="#a2ffc4"/>
<rect x="686" y="180" width="2" height="2" fill="#8fffbb"/>
<rect x="688" y="180" width="2" height="2" fill="#7cffb4"/>
<rect x="690" y="180" width="2" height="2" fill="#68ffad"/>
<rect x="692" y="180" width="2" height="2" fill="#51ffa6"/>
<rect x="694" y="180" width="2" height="2" fill="#32ffa0"/>
<rect x="696" y="180" width="2" height="2" fill="#00ff9b"/>
<rect x="698" y="180" width="2" height="2" fill="#00ff96"/>
<rect x="644" y="182" width="2" height="2" fill="#ff00be"/>
<rect x="646" y="182" width="2" height="2" fill="#ff01cb"/>
<rect x="648" y="182" width="2" height="2" fill="#ff0fcd"/>
<rect x="650" y="182" width="2" height="2" fill="#ff1ccf"/>
<rect x="652" y="182" width="2" height="2" fill="#ff29d2"/>
<rect x="654" y="182" width="2" height="2" fill="#ff36d6"/>
<rect x="656" y="182" width="2" height="2" fill="#ff43d9"/>
<rect x="658" y="182" width="2" height="2" fill="#ff51dd"/>
<rect x="660" y="182" width="2" height="2" fill="#ff5fe2"/>
<rect x="662" y="182" width="2" height="2" fill="#ff6ee7"/>
<rect x="664" y="182" width="2" height="2" fill="#ff7dec"/>
<rect x="666" y="182" width="2" height="2" fill="#ff8ef3"/>
<rect x="668" y="182" width="2" height="2" fill="#ff9ff9"/>
<rect x="670" y="182" width="2" height="2" fill="#fdb0ff"/>
<rect x="672" y="182" width="2" height="2" fill="#f5bdff"/>
<rect x="674" y="182" width="2" height="2" fill="#eccbff"/>
<rect x="676" y="182" width="2" height="2" fill="#e3d8ff"/>
<rect x="678" y="182" width="2" height="2" fill="#d9e5ff"/>
<rect x="680" y="182" width="2" height="2" fill="#cef2ff"/>
<rect x="682" y="182" width="2" height="2" fill="#c2ffff"/>
<rect x="684" y="182" width="2" height="2" fill="#acfff2"/>
<rect x="686" y="182" width="2" height="2" fill="#97ffe7"/>
<rect x="688" y="182" width="2" height="2" fill="#82ffdd"/>
<rect x="690" y="182" width="2" height="2" fill="#6cffd4"/>
<rect x="692" y="182" width="2" height="2" fill="#52ffcb"/>
<rect x="694" y="182" width="2" height="2" fill="#2dffc3"/>
<rect x="696" y="182" width="2" height="2" fill="#00ffbc"/>
<rect x="698" y="182" width="2" height="2" fill="#00ffb6"/>
<rect x="648" y="184" width="2" height="2" fill="#ff00e1"/>
<rect x="650" y="184" width="2" height="2" fill="#ff05ed"/>
<rect x="652" y="184" width="2" height="2" fill="#ff13f0"/>
<rect x="654" y="184" width="2" height="2" fill="#ff21f3"/>
<rect x="656" y="184" width="2" height="2" fill="#ff2ef7"/>
<rect x="658" y="184" width="2" height="2" fill="#ff3cfc"/>
<rect x="660" y="184" width="2" height="2" fill="#fd4aff"/>
<rect x="662" y="184" width="2" height="2" fill="#f856ff"/>
<rect x="664" y="184" width="2" height="2" fill="#f263ff"/>
<rect x="666" y="184" width="2" height="2" fill="#ec6fff"/>
<rect x="668" y="184" width="2" height="2" fill="#e67cff"/>
<rect x="670" y="184" width="2" height="2" fill="#df88ff"/>
<rect x="672" y="184" width="2" height="2" fill="#d794ff"/>
<rect x="674" y="184" width="2" height="2" fill="#d0a0ff"/>
<rect x="676" y="184" width="2" height="2" fill="#c7acff"/>
<rect x="678" y="184" width="2" height="2" fill="#beb8ff"/>
<rect x="680" y="184" width="2" height="2" fill="#b5c3ff"/>
<rect x="682" y="184" width="2" height="2" fill="#aacfff"/>
<rect x="684" y="184" width="2" height="2" fill="#9edbff"/>
<rect x="686" y="184" width="2" height="2" fill="#91e6ff"/>
<rect x="688" y="184" width="2" height="2" fill="#82f2ff"/>
<rect x="690" y="184" width="2" height="2" fill="#6ffdff"/>
<rect x="692" y="184" width="2" height="2" fill="#52fff5"/>
<rect x="694" y="184" width="2" height="2" fill="#1fffeb"/>
<rect x="696" y="184" width="2" height="2" fill="#00ffe2"/>
<rect x="698" y="184" width="2" height="2" fill="#00ffd9"/>
<rect x="650" y="186" width="2" height="2" fill="#ff00f9"/>
<rect x="652" y="186" width="2" height="2" fill="#f600ff"/>
<rect x="654" y="186" width="2" height="2" fill="#ee09ff"/>
<rect x="656" y="186" width="2" height="2" fill="#ea16ff"/>
<rect x="658" y="186" width="2" height="2" fill="#e622ff"/>
<rect x="660" y="186" width="2" height="2" fill="#e12eff"/>
<rect x="662" y="186" width="2" height="2" fill="#dd3aff"/>
<rect x="664" y="186" width="2" height="2" fill="#d746ff"/>
<rect x="666" y="186" width="2" height="2" fill="#d251ff"/>
<rect x="668" y="186" width="2" height="2" fill="#cc5cff"/>
<rect x="670" y="186" width="2" height="2" fill="#c667ff"/>
<rect x="672" y="186" width="2" height="2" fill="#c072ff"/>
<rect x="674" y="186" width="2" height="2" fill="#b97dff"/>
<rect x="676" y="186" width="2" height="2" fill="#b188ff"/>
<rect x="678" y="186" width="2" height="2" fill="#a993ff"/>
<rect x="680" y="186" width="2" height="2" fill="#a09eff"/>
<rect x="682" y="186" width="2" height="2" fill="#96a8ff"/>
<rect x="684" y="186" width="2" height="2" fill="#8cb3ff"/>
<rect x="686" y="186" width="2" height="2" fill="#7fbdff"/>
<rect x="688" y="186" width="2" height="2" fill="#71c8ff"/>
<rect x="690" y="186" width="2" height="2" fill="#5fd2ff"/>
<rect x="692" y="186" width="2" height="2" fill="#46ddff"/>
<rect x="694" y="186" width="2" height="2" fill="#00e7ff"/>
<rect x="696" y="186" width="2" height="2" fill="#00f2ff"/>
<rect x="698" y="186" width="2" height="2" fill="#00fcff"/>
<rect x="654" y="188" width="2" height="2" fill="#e000ff"/>
<rect x="656" y="188" width="2" height="2" fill="#d300ff"/>
<rect x="658" y="188" width="2" height="2" fill="#ce0bff"/>
<rect x="660" y="188" width="2" height="2" fill="#ca17ff"/>
<rect x="662" y="188" width="2" height="2" fill="#c622ff"/>
<rect x="664" y="188" width="2" height="2" fill="#c12dff"/>
<rect x="666" y="188" width="2" height="2" fill="#bd38ff"/>
<rect x="668" y="188" width="2" height="2" fill="#b742ff"/>
<rect x="670" y="188" width="2" height="2" fill="#b24dff"/>
<rect x="672" y="188" width="2" height="2" fill="#ac57ff"/>
<rect x="674" y="188" width="2" height="2" fill="#a561ff"/>
<rect x="676" y="188" width="2" height="2" fill="#9f6bff"/>
<rect x="678" y="188" width="2" height="2" fill="#9775ff"/>
<rect x="680" y="188" width="2" height="2" fill="#8f7fff"/>
<rect x="682" y="188" width="2" height="2" fill="#8688ff"/>
<rect x="684" y="188" width="2" height="2" fill="#7c92ff"/>
<rect x="686" y="188" width="2" height="2" fill="#709cff"/>
<rect x="688" y="188" width="2" height="2" fill="#63a6ff"/>
<rect x="690" y="188" width="2" height="2" fill="#51afff"/>
<rect x="692" y="188" width="2" height="2" fill="#36b9ff"/>
<rect x="694" y="188" width="2" height="2" fill="#00c2ff"/>
<rect x="696" y="188" width="2" height="2" fill="#00ccff"/>
<rect x="656" y="190" width="2" height="2" fill="#cc00ff"/>
<rect x="658" y="190" width="2" height="2" fill="#c100ff"/>
<rect x="660" y="190" width="2" height="2" fill="#b702ff"/>
<rect x="662" y="190" width="2" height="2" fill="#b30dff"/>
<rect x="664" y="190" width="2" height="2" fill="#af18ff"/>
<rect x="666" y="190" width="2" height="2" fill="#aa22ff"/>
<rect x="668" y="190" width="2" height="2" fill="#a62cff"/>
<rect x="670" y="190" width="2" height="2" fill="#a136ff"/>
<rect x="672" y="190" width="2" height="2" fill="#9b3fff"/>
<rect x="674" y="190" width="2" height="2" fill="#9549ff"/>
<rect x="676" y="190" width="2" height="2" fill="#8f52ff"/>
<rect x="678" y="190" width="2" height="2" fill="#885cff"/>
<rect x="680" y="190" width="2" height="2" fill="#8065ff"/>
<rect x="682" y="190" width="2" height="2" fill="#786eff"/>
<rect x="684" y="190" width="2" height="2" fill="#6e77ff"/>
<rect x="686" y="190" width="2" height="2" fill="#6380ff"/>
<rect x="688" y="190" width="2" height="2" fill="#5689ff"/>
<rect x="690" y="190" width="2" height="2" fill="#4492ff"/>
<rect x="692" y="190" width="2" height="2" fill="#259bff"/>
<rect x="694" y="190" width="2" height="2" fill="#00a3ff"/>
<rect x="696" y="190" width="2" height="2" fill="#00acff"/>
<rect x="660" y="192" width="2" height="2" fill="#b000ff"/>
<rect x="662" y="192" width="2" height="2" fill="#a600ff"/>
<rect x="664" y="192" width="2" height="2" fill="#9f05ff"/>
<rect x="666" y="192" width="2" height="2" fill="#9b0fff"/>
<rect x="668" y="192" width="2" height="2" fill="#9619ff"/>
<rect x="670" y="192" width="2" height="2" fill="#9222ff"/>
<rect x="672" y="192" width="2" height="2" fill="#8d2bff"/>
<rect x="674" y="192" width="2" height="2" fill="#8734ff"/>
<rect x="676" y="192" width="2" height="2" fill="#813dff"/>
<rect x="678" y="192" width="2" height="2" fill="#7b46ff"/>
<rect x="680" y="192" width="2" height="2" fill="#734eff"/>
<rect x="682" y="192" width="2" height="2" fill="#6b57ff"/>
<rect x="684" y="192" width="2" height="2" fill="#625fff"/>
<rect x="686" y="192" width="2" height="2" fill="#5868ff"/>
<rect x="688" y="192" width="2" height="2" fill="#4a70ff"/>
<rect x="690" y="192" width="2" height="2" fill="#3879ff"/>
<rect x="692" y="192" width="2" height="2" fill="#0081ff"/>
<rect x="694" y="192" width="2" height="2" fill="#0089ff"/>
<rect x="696" y="192" width="2" height="2" fill="#0091ff"/>
<rect x="662" y="194" width="2" height="2" fill="#a000ff"/>
<rect x="664" y="194" width="2" height="2" fill="#9700ff"/>
<rect x="666" y="194" width="2" height="2" fill="#8f00ff"/>
<rect x="668" y="194" width="2" height="2" fill="#8907ff"/>
<rect x="670" y="194" width="2" height="2" fill="#8511ff"/>
<rect x="672" y="194" width="2" height="2" fill="#801aff"/>
<rect x="674" y="194" width="2" height="2" fill="#7b22ff"/>
<rect x="676" y="194" width="2" height="2" fill="#752bff"/>
<rect x="678" y="194" width="2" height="2" fill="#6f33ff"/>
<rect x="680" y="194" width="2" height="2" fill="#683bff"/>
<rect x="682" y="194" width="2" height="2" fill="#6043ff"/>
<rect x="684" y="194" width="2" height="2" fill="#574bff"/>
<rect x="686" y="194" width="2" height="2" fill="#4d53ff"/>
<rect x="688" y="194" width="2" height="2" fill="#3f5bff"/>
<rect x="690" y="194" width="2" height="2" fill="#2b63ff"/>
<rect x="692" y="194" width="2" height="2" fill="#006bff"/>
<rect x="694" y="194" width="2" height="2" fill="#0072ff"/>
<rect x="696" y="194" width="2" height="2" fill="#007aff"/>
<rect x="666" y="196" width="2" height="2" fill="#8a00ff"/>
<rect x="668" y="196" width="2" height="2" fill="#8200ff"/>
<rect x="670" y="196" width="2" height="2" fill="#7a00ff"/>
<rect x="672" y="196" width="2" height="2" fill="#7509ff"/>
<rect x="674" y="196" width="2" height="2" fill="#7012ff"/>
<rect x="676" y="196" width="2" height="2" fill="#6b1aff"/>
<rect x="678" y="196" width="2" height="2" fill="#6522ff"/>
<rect x="680" y="196" width="2" height="2" fill="#5e2aff"/>
<rect x="682" y="196" width="2" height="2" fill="#5632ff"/>
<rect x="684" y="196" width="2" height="2" fill="#4e39ff"/>
<rect x="686" y="196" width="2" height="2" fill="#4341ff"/>
<rect x="688" y="196" width="2" height="2" fill="#3548ff"/>
<rect x="690" y="196" width="2" height="2" fill="#1a50ff"/>
<rect x="692" y="196" width="2" height="2" fill="#0057ff"/>
<rect x="694" y="196" width="2" height="2" fill="#005eff"/>
<rect x="668" y="198" width="2" height="2" fill="#7d00ff"/>
<rect x="670" y="198" width="2" height="2" fill="#7500ff"/>
<rect x="672" y="198" width="2" height="2" fill="#6d00ff"/>
<rect x="674" y="198" width="2" height="2" fill="#6602ff"/>
<rect x="676" y="198" width="2" height="2" fill="#610bff"/>
<rect x="678" y="198" width="2" height="2" fill="#5b13ff"/>
<rect x="680" y="198" width="2" height="2" fill="#551bff"/>
<rect x="682" y="198" width="2" height="2" fill="#4d22ff"/>
<rect x="684" y="198" width="2" height="2" fill="#442aff"/>
<rect x="686" y="198" width="2" height="2" fill="#3931ff"/>
<rect x="688" y="198" width="2" height="2" fill="#2938ff"/>
<rect x="690" y="198" width="2" height="2" fill="#003fff"/>
<rect x="692" y="198" width="2" height="2" fill="#0046ff"/>
<rect x="694" y="198" width="2" height="2" fill="#004dff"/>
<rect x="672" y="200" width="2" height="2" fill="#6900ff"/>
<rect x="674" y="200" width="2" height="2" fill="#6100ff"/>
<rect x="676" y="200" width="2" height="2" fill="#5900ff"/>
<rect x="678" y="200" width="2" height="2" fill="#5204ff"/>
<rect x="680" y="200" width="2" height="2" fill="#4c0cff"/>
<rect x="682" y="200" width="2" height="2" fill="#4514ff"/>
<rect x="684" y="200" width="2" height="2" fill="#3c1bff"/>
<rect x="686" y="200" width="2" height="2" fill="#2f22ff"/>
<rect x="688" y="200" width="2" height="2" fill="#1b29ff"/>
<rect x="690" y="200" width="2" height="2" fill="#0030ff"/>
<rect x="692" y="200" width="2" height="2" fill="#0037ff"/>
<rect x="674" y="202" width="2" height="2" fill="#5c00ff"/>
<rect x="676" y="202" width="2" height="2" fill="#5500ff"/>
<rect x="678" y="202" width="2" height="2" fill="#4d00ff"/>
<rect x="680" y="202" width="2" height="2" fill="#4400ff"/>
<rect x="682" y="202" width="2" height="2" fill="#3c06ff"/>
<rect x="684" y="202" width="2" height="2" fill="#330eff"/>
<rect x="686" y="202" width="2" height="2" fill="#2515ff"/>
<rect x="688" y="202" width="2" height="2" fill="#001bff"/>
<rect x="690" y="202" width="2" height="2" fill="#0022ff"/>
<rect x="692" y="202" width="2" height="2" fill="#0029ff"/>
<rect x="678" y="204" width="2" height="2" fill="#4800ff"/>
<rect x="680" y="204" width="2" height="2" fill="#3f00ff"/>
<rect x="682" y="204" width="2" height="2" fill="#3500ff"/>
<rect x="684" y="204" width="2" height="2" fill="#2900ff"/>
<rect x="686" y="204" width="2" height="2" fill="#1708ff"/>
<rect x="688" y="204" width="2" height="2" fill="#000fff"/>
<rect x="690" y="204" width="2" height="2" fill="#0015ff"/>
<rect x="682" y="206" width="2" height="2" fill="#2f00ff"/>
<rect x="684" y="206" width="2" height="2" fill="#2000ff"/>
<rect x="686" y="206" width="2" height="2" fill="#0000ff"/>
<rect x="688" y="206" width="2" height="2" fill="#0002ff"/>
<rect x="690" y="206" width="2" height="2" fill="#0009ff"/>
</g></svg>
<div class="t" style="left:604px;top:150.4px;font-size:11.4px;font-weight:bold;color:#1a1a1a;">0001</div>
<div class="t" style="left:682.6px;top:150.4px;font-size:11.4px;font-weight:bold;color:#1a1a1a;">1210</div>
<div class="t" style="left:672.8px;top:213.6px;font-size:11.4px;font-weight:bold;color:#1a1a1a;">0110</div>
<div class="abs" style="left:683.6px;top:148.6px;width:4.6px;height:1px;background:#444;"></div>
<div class="abs" style="left:696.3px;top:148.6px;width:4.6px;height:1px;background:#444;"></div>
<div class="abs" style="left:686.4px;top:211.8px;width:4.6px;height:1px;background:#444;"></div>
<svg width="752" height="446" viewBox="0 0 752 446" fill="none">
<rect x="70.7" y="278.8" width="177.8" height="132.39999999999998" stroke="#1c1c1c" stroke-width="1.15"/>
<path d="M70.70 411.2v-2.6M70.70 278.8v2.6M90.46 411.2v-2.6M90.46 278.8v2.6M110.21 411.2v-2.6M110.21 278.8v2.6M129.97 411.2v-2.6M129.97 278.8v2.6M149.72 411.2v-2.6M149.72 278.8v2.6M169.48 411.2v-2.6M169.48 278.8v2.6M189.23 411.2v-2.6M189.23 278.8v2.6M208.99 411.2v-2.6M208.99 278.8v2.6M228.74 411.2v-2.6M228.74 278.8v2.6M248.50 411.2v-2.6M248.50 278.8v2.6" stroke="#1c1c1c" stroke-width="1.0"/>
<path d="M80.58 411.2v-1.5M80.58 278.8v1.5M100.33 411.2v-1.5M100.33 278.8v1.5M120.09 411.2v-1.5M120.09 278.8v1.5M139.84 411.2v-1.5M139.84 278.8v1.5M159.60 411.2v-1.5M159.60 278.8v1.5M179.36 411.2v-1.5M179.36 278.8v1.5M199.11 411.2v-1.5M199.11 278.8v1.5M218.87 411.2v-1.5M218.87 278.8v1.5M238.62 411.2v-1.5M238.62 278.8v1.5" stroke="#1c1c1c" stroke-width="1.0"/>
<path d="M70.7 404.40h2.6M248.5 404.40h-2.6M70.7 383.55h2.6M248.5 383.55h-2.6M70.7 362.70h2.6M248.5 362.70h-2.6M70.7 341.85h2.6M248.5 341.85h-2.6M70.7 321.00h2.6M248.5 321.00h-2.6M70.7 300.15h2.6M248.5 300.15h-2.6M70.7 279.30h2.6M248.5 279.30h-2.6" stroke="#1c1c1c" stroke-width="1.0"/>
<path d="M70.7 393.97h1.5M248.5 393.97h-1.5M70.7 373.12h1.5M248.5 373.12h-1.5M70.7 352.27h1.5M248.5 352.27h-1.5M70.7 331.42h1.5M248.5 331.42h-1.5M70.7 310.57h1.5M248.5 310.57h-1.5M70.7 289.72h1.5M248.5 289.72h-1.5" stroke="#1c1c1c" stroke-width="1.0"/>
<text x="70.70" y="419.8" font-size="6.9" letter-spacing="0.3" text-anchor="middle" fill="#2a2a2a">0</text>
<text x="90.46" y="419.8" font-size="6.9" letter-spacing="0.3" text-anchor="middle" fill="#2a2a2a">10</text>
<text x="110.21" y="419.8" font-size="6.9" letter-spacing="0.3" text-anchor="middle" fill="#2a2a2a">20</text>
<text x="129.97" y="419.8" font-size="6.9" letter-spacing="0.3" text-anchor="middle" fill="#2a2a2a">30</text>
<text x="149.72" y="419.8" font-size="6.9" letter-spacing="0.3" text-anchor="middle" fill="#2a2a2a">40</text>
<text x="169.48" y="419.8" font-size="6.9" letter-spacing="0.3" text-anchor="middle" fill="#2a2a2a">50</text>
<text x="189.23" y="419.8" font-size="6.9" letter-spacing="0.3" text-anchor="middle" fill="#2a2a2a">60</text>
<text x="208.99" y="419.8" font-size="6.9" letter-spacing="0.3" text-anchor="middle" fill="#2a2a2a">70</text>
<text x="228.74" y="419.8" font-size="6.9" letter-spacing="0.3" text-anchor="middle" fill="#2a2a2a">80</text>
<text x="248.50" y="419.8" font-size="6.9" letter-spacing="0.3" text-anchor="middle" fill="#2a2a2a">90</text>
<text x="68.8" y="386.34999999999997" font-size="6.9" letter-spacing="0.22" text-anchor="end" fill="#2a2a2a">1x10<tspan font-size="4.28" dy="-2.90">5</tspan></text>
<text x="68.8" y="365.5" font-size="6.9" letter-spacing="0.22" text-anchor="end" fill="#2a2a2a">2x10<tspan font-size="4.28" dy="-2.90">5</tspan></text>
<text x="68.8" y="344.65" font-size="6.9" letter-spacing="0.22" text-anchor="end" fill="#2a2a2a">3x10<tspan font-size="4.28" dy="-2.90">5</tspan></text>
<text x="68.8" y="323.8" font-size="6.9" letter-spacing="0.22" text-anchor="end" fill="#2a2a2a">4x10<tspan font-size="4.28" dy="-2.90">5</tspan></text>
<text x="68.8" y="302.95" font-size="6.9" letter-spacing="0.22" text-anchor="end" fill="#2a2a2a">5x10<tspan font-size="4.28" dy="-2.90">5</tspan></text>
<text x="68.8" y="282.09999999999997" font-size="6.9" letter-spacing="0.22" text-anchor="end" fill="#2a2a2a">6x10<tspan font-size="4.28" dy="-2.90">5</tspan></text>
<text x="67.4" y="407.00" font-size="6.9" text-anchor="end" fill="#2a2a2a">0</text>
<path d="M90.46 405.4H228.74" stroke="#1c1c1c" stroke-width="2.1"/>
<path d="M139.05 406V301.19" stroke="#1c1c1c" stroke-width="1.6"/>
<path d="M214.72 406V394" stroke="#1c1c1c" stroke-width="2.1"/>
<path d="M153.08 405V402.6" stroke="#1c1c1c" stroke-width="1.6"/>
<text x="143.85" y="297.1" font-size="8.4" text-anchor="middle" fill="#2a2a2a">GaN (0002)</text>
<text x="196.8" y="388.4" font-size="8.4" fill="#2a2a2a">GaN (0004)</text>
<text x="142.6" y="397.2" font-size="8.4" fill="#2a2a2a">Al<tspan font-size="5.2" dy="2">2</tspan><tspan dy="-2">O</tspan><tspan font-size="5.2" dy="2">3</tspan><tspan dy="-2">(0006)</tspan></text>
<text x="133.9" y="432.5" font-size="11.8" class="sf" fill="#2a2a2a">2</text>
<text x="139.3" y="432.5" font-size="12.6" class="sf" fill="#2a2a2a">θ</text>
<text x="148.3" y="432.5" font-size="11.1" fill="#2a2a2a">(degree)</text>
<text transform="translate(40.0 346.6) rotate(-90)" font-size="11.4" text-anchor="middle" fill="#2a2a2a">X-ray intensity (a.u.)</text>
<rect x="301.0" y="278.8" width="175.10000000000002" height="129.5" stroke="#1c1c1c" stroke-width="1.15"/>
<path d="M301.00 408.3v-2.6M301.00 278.8v2.6M336.02 408.3v-2.6M336.02 278.8v2.6M371.04 408.3v-2.6M371.04 278.8v2.6M406.06 408.3v-2.6M406.06 278.8v2.6M441.08 408.3v-2.6M441.08 278.8v2.6M476.10 408.3v-2.6M476.10 278.8v2.6" stroke="#1c1c1c" stroke-width="1.0"/>
<path d="M318.51 408.3v-1.5M318.51 278.8v1.5M353.53 408.3v-1.5M353.53 278.8v1.5M388.55 408.3v-1.5M388.55 278.8v1.5M423.57 408.3v-1.5M423.57 278.8v1.5M458.59 408.3v-1.5M458.59 278.8v1.5" stroke="#1c1c1c" stroke-width="1.0"/>
<path d="M301.0 406.00h2.6M476.1 406.00h-2.6M301.0 374.30h2.6M476.1 374.30h-2.6M301.0 342.60h2.6M476.1 342.60h-2.6M301.0 310.90h2.6M476.1 310.90h-2.6M301.0 279.20h2.6M476.1 279.20h-2.6" stroke="#1c1c1c" stroke-width="1.0"/>
<path d="M301.0 390.15h1.5M476.1 390.15h-1.5M301.0 358.45h1.5M476.1 358.45h-1.5M301.0 326.75h1.5M476.1 326.75h-1.5M301.0 295.05h1.5M476.1 295.05h-1.5" stroke="#1c1c1c" stroke-width="1.0"/>
<text x="301.00" y="417.4" font-size="6.8" letter-spacing="0.3" text-anchor="middle" fill="#2a2a2a">16.0</text>
<text x="336.02" y="417.4" font-size="6.8" letter-spacing="0.3" text-anchor="middle" fill="#2a2a2a">16.5</text>
<text x="371.04" y="417.4" font-size="6.8" letter-spacing="0.3" text-anchor="middle" fill="#2a2a2a">17.0</text>
<text x="406.06" y="417.4" font-size="6.8" letter-spacing="0.3" text-anchor="middle" fill="#2a2a2a">17.5</text>
<text x="441.08" y="417.4" font-size="6.8" letter-spacing="0.3" text-anchor="middle" fill="#2a2a2a">18.0</text>
<text x="476.10" y="417.4" font-size="6.8" letter-spacing="0.3" text-anchor="middle" fill="#2a2a2a">18.5</text>
<text x="298.8" y="377.0" font-size="6.8" letter-spacing="0.22" text-anchor="end" fill="#2a2a2a">2x10<tspan font-size="4.22" dy="-2.86">5</tspan></text>
<text x="298.8" y="345.3" font-size="6.8" letter-spacing="0.22" text-anchor="end" fill="#2a2a2a">4x10<tspan font-size="4.22" dy="-2.86">5</tspan></text>
<text x="298.8" y="313.59999999999997" font-size="6.8" letter-spacing="0.22" text-anchor="end" fill="#2a2a2a">6x10<tspan font-size="4.22" dy="-2.86">5</tspan></text>
<text x="298.8" y="281.9" font-size="6.8" letter-spacing="0.22" text-anchor="end" fill="#2a2a2a">8x10<tspan font-size="4.22" dy="-2.86">5</tspan></text>
<text x="297.4" y="408.80" font-size="6.8" text-anchor="end" fill="#2a2a2a">0</text>
<path d="M321.80 406.50 L328.62 406.50 L331.28 406.40 L333.62 406.30 L335.71 406.20 L337.59 406.10 L339.30 406.00 L340.85 405.90 L342.27 405.80 L343.57 405.70 L344.78 405.60 L345.90 405.50 L346.94 405.40 L347.92 405.30 L348.84 405.20 L349.70 405.10 L350.51 405.00 L351.27 404.90 L351.99 404.80 L352.68 404.70 L353.33 404.60 L353.95 404.50 L354.54 404.40 L355.11 404.30 L355.65 404.20 L356.17 404.10 L356.66 404.00 L357.82 403.75 L358.86 403.50 L359.82 403.25 L360.70 403.00 L361.51 402.75 L362.26 402.50 L362.96 402.25 L363.62 402.00 L364.23 401.75 L364.80 401.50 L365.34 401.25 L365.85 401.00 L366.34 400.75 L366.79 400.50 L367.23 400.25 L367.64 400.00 L368.03 399.75 L368.41 399.50 L368.77 399.25 L369.11 399.00 L369.44 398.75 L369.76 398.50 L370.06 398.25 L370.36 398.00 L371.42 397.00 L372.36 396.00 L373.18 395.00 L373.91 394.00 L374.57 393.00 L375.17 392.00 L375.72 391.00 L376.22 390.00 L376.68 389.00 L377.11 388.00 L377.51 387.00 L377.88 386.00 L378.23 385.00 L378.56 384.00 L378.87 383.00 L379.16 382.00 L379.44 381.00 L379.70 380.00 L379.95 379.00 L380.19 378.00 L380.42 377.00 L380.64 376.00 L380.85 375.00 L381.04 374.00 L381.24 373.00 L381.42 372.00 L381.60 371.00 L381.76 370.00 L381.93 369.00 L382.08 368.00 L382.24 367.00 L382.38 366.00 L382.52 365.00 L382.66 364.00 L382.79 363.00 L382.91 362.00 L383.03 361.00 L383.15 360.00 L383.28 359.00 L383.40 358.00 L383.52 357.00 L383.64 356.00 L383.76 355.00 L383.87 354.00 L383.99 353.00 L384.10 352.00 L384.21 351.00 L384.31 350.00 L384.42 349.00 L384.52 348.00 L384.62 347.00 L384.72 346.00 L384.82 345.00 L384.92 344.00 L385.01 343.00 L385.11 342.00 L385.20 341.00 L385.29 340.00 L385.39 339.00 L385.48 338.00 L385.57 337.00 L385.66 336.00 L385.75 335.00 L385.84 334.00 L385.93 333.00 L386.02 332.00 L386.11 331.00 L386.20 330.00 L386.29 329.00 L386.38 328.00 L386.47 327.00 L386.56 326.00 L386.66 325.00 L386.75 324.00 L386.85 323.00 L386.95 322.00 L387.05 321.00 L387.16 320.00 L387.26 319.00 L387.38 318.00 L387.49 317.00 L387.61 316.00 L387.74 315.00 L387.88 314.00 L388.02 313.00 L388.17 312.00 L388.25 311.50 L388.34 311.00 L388.42 310.50 L388.51 310.00 L388.61 309.50 L388.70 309.00 L388.81 308.50 L388.91 308.00 L389.03 307.50 L389.14 307.00 L389.27 306.50 L389.41 306.00 L389.56 305.50 L389.73 305.00 L389.94 304.50 L390.40 304.00 L390.40 304.00 L390.86 304.50 L391.07 305.00 L391.24 305.50 L391.39 306.00 L391.53 306.50 L391.66 307.00 L391.77 307.50 L391.89 308.00 L391.99 308.50 L392.10 309.00 L392.19 309.50 L392.29 310.00 L392.38 310.50 L392.46 311.00 L392.55 311.50 L392.63 312.00 L392.78 313.00 L392.92 314.00 L393.06 315.00 L393.19 316.00 L393.31 317.00 L393.42 318.00 L393.54 319.00 L393.64 320.00 L393.75 321.00 L393.85 322.00 L393.95 323.00 L394.05 324.00 L394.14 325.00 L394.24 326.00 L394.33 327.00 L394.42 328.00 L394.51 329.00 L394.60 330.00 L394.69 331.00 L394.78 332.00 L394.87 333.00 L394.96 334.00 L395.05 335.00 L395.14 336.00 L395.23 337.00 L395.32 338.00 L395.41 339.00 L395.51 340.00 L395.60 341.00 L395.69 342.00 L395.79 343.00 L395.88 344.00 L395.98 345.00 L396.08 346.00 L396.18 347.00 L396.28 348.00 L396.38 349.00 L396.49 350.00 L396.59 351.00 L396.70 352.00 L396.81 353.00 L396.93 354.00 L397.04 355.00 L397.16 356.00 L397.28 357.00 L397.40 358.00 L397.52 359.00 L397.65 360.00 L397.77 361.00 L397.89 362.00 L398.01 363.00 L398.14 364.00 L398.28 365.00 L398.42 366.00 L398.56 367.00 L398.72 368.00 L398.87 369.00 L399.04 370.00 L399.20 371.00 L399.38 372.00 L399.56 373.00 L399.76 374.00 L399.95 375.00 L400.16 376.00 L400.38 377.00 L400.61 378.00 L400.85 379.00 L401.10 380.00 L401.36 381.00 L401.64 382.00 L401.93 383.00 L402.24 384.00 L402.57 385.00 L402.92 386.00 L403.29 387.00 L403.69 388.00 L404.12 389.00 L404.58 390.00 L405.08 391.00 L405.63 392.00 L406.23 393.00 L406.89 394.00 L407.62 395.00 L408.44 396.00 L409.38 397.00 L410.44 398.00 L410.74 398.25 L411.04 398.50 L411.36 398.75 L411.69 399.00 L412.03 399.25 L412.39 399.50 L412.77 399.75 L413.16 400.00 L413.57 400.25 L414.01 400.50 L414.46 400.75 L414.95 401.00 L415.46 401.25 L416.00 401.50 L416.57 401.75 L417.18 402.00 L417.84 402.25 L418.54 402.50 L419.29 402.75 L420.10 403.00 L420.98 403.25 L421.94 403.50 L422.98 403.75 L424.14 404.00 L424.63 404.10 L425.15 404.20 L425.69 404.30 L426.26 404.40 L426.85 404.50 L427.47 404.60 L428.12 404.70 L428.81 404.80 L429.53 404.90 L430.29 405.00 L431.10 405.10 L431.96 405.20 L432.88 405.30 L433.86 405.40 L434.90 405.50 L436.02 405.60 L437.23 405.70 L438.53 405.80 L439.95 405.90 L441.50 406.00 L443.21 406.10 L445.09 406.20 L447.18 406.30 L449.52 406.40 L452.18 406.50 L459.00 406.50" stroke="#8a8a8a" stroke-width="2.3" stroke-linejoin="round" stroke-linecap="butt"/>
<path d="M321.80 406.50 L328.62 406.50 L331.28 406.40 L333.62 406.30 L335.71 406.20 L337.59 406.10 L339.30 406.00 L340.85 405.90 L342.27 405.80 L343.57 405.70 L344.78 405.60 L345.90 405.50 L346.94 405.40 L347.92 405.30 L348.84 405.20 L349.70 405.10 L350.51 405.00 L351.27 404.90 L351.99 404.80 L352.68 404.70 L353.33 404.60 L353.95 404.50 L354.54 404.40 L355.11 404.30 L355.65 404.20 L356.17 404.10 L356.66 404.00 L357.82 403.75 L358.86 403.50 L359.82 403.25 L360.70 403.00 L361.51 402.75 L362.26 402.50 L362.96 402.25 L363.62 402.00 L364.23 401.75 L364.80 401.50 L365.34 401.25 L365.85 401.00 L366.34 400.75 L366.79 400.50 L367.23 400.25 L367.64 400.00 L368.03 399.75 L368.41 399.50 L368.77 399.25 L369.11 399.00 L369.44 398.75 L369.76 398.50 L370.06 398.25 L370.36 398.00 L371.42 397.00 L372.36 396.00 L373.18 395.00 L373.91 394.00 L374.57 393.00 L375.17 392.00 L375.72 391.00 L376.22 390.00 L376.68 389.00 L377.11 388.00 L377.51 387.00 L377.88 386.00 L378.23 385.00 L378.56 384.00 L378.87 383.00 L379.16 382.00 L379.44 381.00 L379.70 380.00 L379.95 379.00 L380.19 378.00 L380.42 377.00 L380.64 376.00 L380.85 375.00 L381.04 374.00 L381.24 373.00 L381.42 372.00 L381.60 371.00 L381.76 370.00 L381.93 369.00 L382.08 368.00 L382.24 367.00 L382.38 366.00 L382.52 365.00 L382.66 364.00 L382.79 363.00 L382.91 362.00 L383.03 361.00 L383.15 360.00 L383.28 359.00 L383.40 358.00 L383.52 357.00 L383.64 356.00 L383.76 355.00 L383.87 354.00 L383.99 353.00 L384.10 352.00 L384.21 351.00 L384.31 350.00 L384.42 349.00 L384.52 348.00 L384.62 347.00 L384.72 346.00 L384.82 345.00 L384.92 344.00 L385.01 343.00 L385.11 342.00 L385.20 341.00 L385.29 340.00 L385.39 339.00 L385.48 338.00 L385.57 337.00 L385.66 336.00 L385.75 335.00 L385.84 334.00 L385.93 333.00 L386.02 332.00 L386.11 331.00 L386.20 330.00 L386.29 329.00 L386.38 328.00 L386.47 327.00 L386.56 326.00 L386.66 325.00 L386.75 324.00 L386.85 323.00 L386.95 322.00 L387.05 321.00 L387.16 320.00 L387.26 319.00 L387.38 318.00 L387.49 317.00 L387.61 316.00 L387.74 315.00 L387.88 314.00 L388.02 313.00 L388.17 312.00 L388.25 311.50 L388.34 311.00 L388.42 310.50 L388.51 310.00 L388.61 309.50 L388.70 309.00 L388.81 308.50 L388.91 308.00 L389.03 307.50 L389.14 307.00 L389.27 306.50 L389.41 306.00 L389.56 305.50 L389.73 305.00 L389.94 304.50 L390.40 304.00 L390.40 304.00 L390.86 304.50 L391.07 305.00 L391.24 305.50 L391.39 306.00 L391.53 306.50 L391.66 307.00 L391.77 307.50 L391.89 308.00 L391.99 308.50 L392.10 309.00 L392.19 309.50 L392.29 310.00 L392.38 310.50 L392.46 311.00 L392.55 311.50 L392.63 312.00 L392.78 313.00 L392.92 314.00 L393.06 315.00 L393.19 316.00 L393.31 317.00 L393.42 318.00 L393.54 319.00 L393.64 320.00 L393.75 321.00 L393.85 322.00 L393.95 323.00 L394.05 324.00 L394.14 325.00 L394.24 326.00 L394.33 327.00 L394.42 328.00 L394.51 329.00 L394.60 330.00 L394.69 331.00 L394.78 332.00 L394.87 333.00 L394.96 334.00 L395.05 335.00 L395.14 336.00 L395.23 337.00 L395.32 338.00 L395.41 339.00 L395.51 340.00 L395.60 341.00 L395.69 342.00 L395.79 343.00 L395.88 344.00 L395.98 345.00 L396.08 346.00 L396.18 347.00 L396.28 348.00 L396.38 349.00 L396.49 350.00 L396.59 351.00 L396.70 352.00 L396.81 353.00 L396.93 354.00 L397.04 355.00 L397.16 356.00 L397.28 357.00 L397.40 358.00 L397.52 359.00 L397.65 360.00 L397.77 361.00 L397.89 362.00 L398.01 363.00 L398.14 364.00 L398.28 365.00 L398.42 366.00 L398.56 367.00 L398.72 368.00 L398.87 369.00 L399.04 370.00 L399.20 371.00 L399.38 372.00 L399.56 373.00 L399.76 374.00 L399.95 375.00 L400.16 376.00 L400.38 377.00 L400.61 378.00 L400.85 379.00 L401.10 380.00 L401.36 381.00 L401.64 382.00 L401.93 383.00 L402.24 384.00 L402.57 385.00 L402.92 386.00 L403.29 387.00 L403.69 388.00 L404.12 389.00 L404.58 390.00 L405.08 391.00 L405.63 392.00 L406.23 393.00 L406.89 394.00 L407.62 395.00 L408.44 396.00 L409.38 397.00 L410.44 398.00 L410.74 398.25 L411.04 398.50 L411.36 398.75 L411.69 399.00 L412.03 399.25 L412.39 399.50 L412.77 399.75 L413.16 400.00 L413.57 400.25 L414.01 400.50 L414.46 400.75 L414.95 401.00 L415.46 401.25 L416.00 401.50 L416.57 401.75 L417.18 402.00 L417.84 402.25 L418.54 402.50 L419.29 402.75 L420.10 403.00 L420.98 403.25 L421.94 403.50 L422.98 403.75 L424.14 404.00 L424.63 404.10 L425.15 404.20 L425.69 404.30 L426.26 404.40 L426.85 404.50 L427.47 404.60 L428.12 404.70 L428.81 404.80 L429.53 404.90 L430.29 405.00 L431.10 405.10 L431.96 405.20 L432.88 405.30 L433.86 405.40 L434.90 405.50 L436.02 405.60 L437.23 405.70 L438.53 405.80 L439.95 405.90 L441.50 406.00 L443.21 406.10 L445.09 406.20 L447.18 406.30 L449.52 406.40 L452.18 406.50 L459.00 406.50" stroke="#181818" stroke-width="1.25" stroke-linejoin="round" stroke-linecap="butt"/>
<text x="311.2" y="294.8" font-size="8.4" fill="#2a2a2a">GaN (0002)</text>
<text x="406.9" y="348.8" font-size="8.3" fill="#2a2a2a">FWHM: 0.19 °</text>
<text x="362.5" y="430.3" font-size="12.8" class="sf" fill="#2a2a2a">ω</text>
<text x="374.3" y="430.5" font-size="12.1" fill="#2a2a2a">(degree)</text>
<text transform="translate(270.9 346.2) rotate(-90)" font-size="12.4" text-anchor="middle" fill="#2a2a2a">X-ray intensity (a.u.)</text>
<rect x="533.3" y="279.0" width="179.30000000000007" height="132.8" stroke="#1c1c1c" stroke-width="1.15"/>
<path d="M533.20 411.8v-2.6M533.20 279.0v2.6M558.12 411.8v-2.6M558.12 279.0v2.6M583.05 411.8v-2.6M583.05 279.0v2.6M607.98 411.8v-2.6M607.98 279.0v2.6M632.90 411.8v-2.6M632.90 279.0v2.6M657.83 411.8v-2.6M657.83 279.0v2.6M682.75 411.8v-2.6M682.75 279.0v2.6M707.68 411.8v-2.6M707.68 279.0v2.6" stroke="#1c1c1c" stroke-width="1.0"/>
<path d="M545.66 411.8v-1.5M545.66 279.0v1.5M570.59 411.8v-1.5M570.59 279.0v1.5M595.51 411.8v-1.5M595.51 279.0v1.5M620.44 411.8v-1.5M620.44 279.0v1.5M645.36 411.8v-1.5M645.36 279.0v1.5M670.29 411.8v-1.5M670.29 279.0v1.5M695.21 411.8v-1.5M695.21 279.0v1.5" stroke="#1c1c1c" stroke-width="1.0"/>
<path d="M533.3 377.50h2.6M712.6 377.50h-2.6M533.3 328.25h2.6M712.6 328.25h-2.6M533.3 279.00h2.6M712.6 279.00h-2.6" stroke="#1c1c1c" stroke-width="1.0"/>
<path d="M533.3 403.25h1.7M712.6 403.25h-1.7M533.3 397.10h1.7M712.6 397.10h-1.7M533.3 392.33h1.7M712.6 392.33h-1.7M533.3 388.43h1.7M712.6 388.43h-1.7M533.3 385.13h1.7M712.6 385.13h-1.7M533.3 382.27h1.7M712.6 382.27h-1.7M533.3 379.75h1.7M712.6 379.75h-1.7M533.3 362.67h1.7M712.6 362.67h-1.7M533.3 354.00h1.7M712.6 354.00h-1.7M533.3 347.85h1.7M712.6 347.85h-1.7M533.3 343.08h1.7M712.6 343.08h-1.7M533.3 339.18h1.7M712.6 339.18h-1.7M533.3 335.88h1.7M712.6 335.88h-1.7M533.3 333.02h1.7M712.6 333.02h-1.7M533.3 330.50h1.7M712.6 330.50h-1.7M533.3 313.42h1.7M712.6 313.42h-1.7M533.3 304.75h1.7M712.6 304.75h-1.7M533.3 298.60h1.7M712.6 298.60h-1.7M533.3 293.83h1.7M712.6 293.83h-1.7M533.3 289.93h1.7M712.6 289.93h-1.7M533.3 286.63h1.7M712.6 286.63h-1.7M533.3 283.77h1.7M712.6 283.77h-1.7M533.3 281.25h1.7M712.6 281.25h-1.7" stroke="#1c1c1c" stroke-width="0.8"/>
<text x="533.20" y="420.2" font-size="7.0" letter-spacing="0.3" text-anchor="middle" fill="#2a2a2a">0</text>
<text x="558.12" y="420.2" font-size="7.0" letter-spacing="0.3" text-anchor="middle" fill="#2a2a2a">50</text>
<text x="583.05" y="420.2" font-size="7.0" letter-spacing="0.3" text-anchor="middle" fill="#2a2a2a">100</text>
<text x="607.98" y="420.2" font-size="7.0" letter-spacing="0.3" text-anchor="middle" fill="#2a2a2a">150</text>
<text x="632.90" y="420.2" font-size="7.0" letter-spacing="0.3" text-anchor="middle" fill="#2a2a2a">200</text>
<text x="657.83" y="420.2" font-size="7.0" letter-spacing="0.3" text-anchor="middle" fill="#2a2a2a">250</text>
<text x="682.75" y="420.2" font-size="7.0" letter-spacing="0.3" text-anchor="middle" fill="#2a2a2a">300</text>
<text x="707.68" y="420.2" font-size="7.0" letter-spacing="0.3" text-anchor="middle" fill="#2a2a2a">350</text>
<text x="531.2" y="379.8" font-size="7.0" letter-spacing="0.22" text-anchor="end" fill="#2a2a2a">1x10<tspan font-size="4.34" dy="-2.94">1</tspan></text>
<text x="531.2" y="330.55" font-size="7.0" letter-spacing="0.22" text-anchor="end" fill="#2a2a2a">1x10<tspan font-size="4.34" dy="-2.94">2</tspan></text>
<text x="531.2" y="281.3" font-size="7.0" letter-spacing="0.22" text-anchor="end" fill="#2a2a2a">1x10<tspan font-size="4.34" dy="-2.94">3</tspan></text>
<path d="M534.00 405.86 L534.25 406.28 L534.50 406.01 L534.75 405.71 L535.00 405.83 L535.25 406.40 L535.50 406.51 L535.75 406.11 L536.00 405.85 L536.25 405.83 L536.50 406.14 L536.75 406.13 L537.00 406.00 L537.25 405.92 L537.50 405.98 L537.75 405.73 L538.00 405.74 L538.25 405.83 L538.50 406.36 L538.75 406.33 L539.00 406.63 L539.25 406.27 L539.50 406.53 L539.75 406.56 L540.00 406.37 L540.25 406.34 L540.50 406.62 L540.75 406.49 L541.00 406.80 L541.25 407.26 L541.50 407.40 L541.75 407.40 L542.00 406.94 L542.25 407.01 L542.50 406.75 L542.75 407.03 L543.00 407.01 L543.25 407.05 L543.50 407.16 L543.75 406.92 L544.00 406.92 L544.25 406.65 L544.50 407.30 L544.75 407.11 L545.00 407.07 L545.25 406.46 L545.50 405.96 L545.75 405.69 L546.00 405.96 L546.25 406.20 L546.50 406.29 L546.75 406.07 L547.00 406.66 L547.25 406.30 L547.50 406.01 L547.75 406.17 L548.00 405.84 L548.25 405.93 L548.50 406.24 L548.75 406.21 L549.00 406.33 L549.25 406.33 L549.50 406.10 L549.75 405.07 L550.00 404.70 L550.25 404.74 L550.50 404.25 L550.75 404.13 L551.00 404.26 L551.25 404.75 L551.50 404.35 L551.75 404.23 L552.00 404.36 L552.25 404.59 L552.50 404.19 L552.75 404.85 L553.00 404.63 L553.25 405.03 L553.50 404.99 L553.75 405.16 L554.00 405.73 L554.25 405.97 L554.50 406.01 L554.75 405.68 L555.00 405.47 L555.25 405.03 L555.50 405.71 L555.75 405.22 L556.00 404.40 L556.25 404.99 L556.50 405.44 L556.75 405.34 L557.00 405.63 L557.25 405.38 L557.50 405.21 L557.75 405.40 L558.00 405.54 L558.25 405.41 L558.50 405.96 L558.75 406.19 L559.00 406.23 L559.25 405.83 L559.50 405.88 L559.75 405.78 L560.00 405.76 L560.25 406.03 L560.50 405.84 L560.75 405.92 L561.00 406.18 L561.25 406.29 L561.50 407.03 L561.75 406.42 L562.00 406.38 L562.25 405.98 L562.50 405.95 L562.75 406.77 L563.00 406.21 L563.25 406.10 L563.50 406.31 L563.75 406.32 L564.00 406.61 L564.25 406.07 L564.50 406.38 L564.75 406.05 L565.00 405.65 L565.25 405.84 L565.50 406.00 L565.75 405.75 L566.00 405.49 L566.25 405.44 L566.50 405.45 L566.75 405.41 L567.00 405.09 L567.25 404.36 L567.50 404.84 L567.75 404.93 L568.00 404.55 L568.25 404.08 L568.50 403.92 L568.75 403.85 L569.00 403.80 L569.25 404.33 L569.50 404.52 L569.75 404.46 L570.00 404.62 L570.25 404.74 L570.50 405.12 L570.75 405.20 L571.00 405.63 L571.25 406.14 L571.50 406.03 L571.75 405.87 L572.00 405.58 L572.25 405.51 L572.50 405.28 L572.75 405.30 L573.00 405.41 L573.25 405.60 L573.50 405.23 L573.75 405.60 L574.00 405.51 L574.25 405.48 L574.50 405.32 L574.75 404.68 L575.00 404.80 L575.25 404.25 L575.50 404.66 L575.75 404.72 L576.00 405.26 L576.25 405.49 L576.50 405.73 L576.75 406.19 L577.00 406.16 L577.25 406.65 L577.50 406.58 L577.75 406.63 L578.00 406.38 L578.25 406.53 L578.50 406.72 L578.75 406.52 L579.00 406.08 L579.25 406.05 L579.50 406.18 L579.75 406.11 L580.00 405.77 L580.25 405.54 L580.50 405.45 L580.75 404.60 L581.00 404.45 L581.25 404.96 L581.50 404.57 L581.75 404.54 L582.00 405.13 L582.25 405.38 L582.50 405.70 L582.75 405.65 L583.00 405.21 L583.25 406.18 L583.50 406.26 L583.75 406.32 L584.00 406.84 L584.25 407.06 L584.50 407.03 L584.75 406.62 L585.00 406.54 L585.25 406.46 L585.50 406.21 L585.75 405.91 L586.00 405.57 L586.25 405.54 L586.50 405.35 L586.75 405.49 L587.00 405.83 L587.25 405.93 L587.50 405.93 L587.75 406.43 L588.00 406.62 L588.25 406.10 L588.50 405.85 L588.75 405.91 L589.00 405.61 L589.25 405.86 L589.50 405.28 L589.75 404.67 L590.00 405.02 L590.25 405.24 L590.50 404.73 L590.75 404.78 L591.00 405.25 L591.25 404.90 L591.50 404.54 L591.75 404.18 L592.00 403.90 L592.25 403.80 L592.50 403.80 L592.75 403.80 L593.00 403.88 L593.25 404.68 L593.50 404.37 L593.75 404.71 L594.00 405.13 L594.25 404.39 L594.50 404.47 L594.75 404.50 L595.00 404.43 L595.25 404.74 L595.50 404.62 L595.75 404.77 L596.00 404.68 L596.25 404.66 L596.50 404.44 L596.75 405.23 L597.00 405.22 L597.25 404.87 L597.50 405.54 L597.75 406.06 L598.00 405.98 L598.25 405.75 L598.50 405.50 L598.75 405.91 L599.00 405.80 L599.25 405.56 L599.50 405.83 L599.75 405.74 L600.00 405.72 L600.25 406.35 L600.50 406.61 L600.75 406.98 L601.00 407.07 L601.25 407.40 L601.50 407.28 L601.75 407.40 L602.00 407.40 L602.25 407.20 L602.50 406.72 L602.75 406.86 L603.00 406.78 L603.25 406.94 L603.50 406.69 L603.75 406.83 L604.00 407.10 L604.25 407.40 L604.50 407.40 L604.75 407.40 L605.00 407.40 L605.25 407.13 L605.50 407.40 L605.75 407.38 L606.00 407.40 L606.25 407.40 L606.50 407.26 L606.75 406.97 L607.00 407.34 L607.25 407.30 L607.50 407.40 L607.75 407.40 L608.00 406.67 L608.25 406.83 L608.50 406.66 L608.75 406.76 L609.00 406.87 L609.25 406.24 L609.50 406.11 L609.75 406.07 L610.00 406.19 L610.25 406.48 L610.50 406.22 L610.75 406.12 L611.00 406.31 L611.25 405.68 L611.50 406.29 L611.75 405.96 L612.00 406.38 L612.25 406.40 L612.50 406.99 L612.75 407.28 L613.00 407.21 L613.25 406.60 L613.50 406.61 L613.75 406.68 L614.00 406.82 L614.25 406.37 L614.50 406.07 L614.75 405.80 L615.00 405.88 L615.25 405.59 L615.50 405.55 L615.75 405.86 L616.00 405.71 L616.25 406.15 L616.50 406.23 L616.75 406.13 L617.00 406.47 L617.25 406.60 L617.50 406.47 L617.75 406.25 L618.00 406.21 L618.25 406.30 L618.50 406.65 L618.75 406.71 L619.00 406.47 L619.25 406.00 L619.50 406.07 L619.75 406.18 L620.00 406.54 L620.25 406.33 L620.50 405.88 L620.75 406.15 L621.00 406.07 L621.25 405.66 L621.50 406.20 L621.75 406.47 L622.00 406.46 L622.25 406.52 L622.50 406.25 L622.75 406.55 L623.00 406.38 L623.25 406.20 L623.50 406.08 L623.75 405.69 L624.00 406.03 L624.25 406.56 L624.50 406.78 L624.75 406.06 L625.00 405.95 L625.25 405.73 L625.50 405.85 L625.75 405.14 L626.00 404.45 L626.25 404.34 L626.50 404.70 L626.75 404.67 L627.00 405.43 L627.25 405.16 L627.50 405.19 L627.75 405.16 L628.00 404.90 L628.25 405.29 L628.50 404.87 L628.75 404.55 L629.00 404.47 L629.25 404.35 L629.50 404.76 L629.75 404.62 L630.00 404.82 L630.25 404.70 L630.50 405.15 L630.75 405.16 L631.00 405.26 L631.25 404.74 L631.50 405.00 L631.75 404.81 L632.00 405.13 L632.25 405.31 L632.50 405.50 L632.75 405.88 L633.00 405.99 L633.25 405.69 L633.50 405.74 L633.75 405.79 L634.00 405.40 L634.25 405.61 L634.50 406.09 L634.75 406.15 L635.00 406.17 L635.25 406.30 L635.50 406.64 L635.75 406.43 L636.00 406.71 L636.25 406.43 L636.50 406.58 L636.75 406.71 L637.00 406.25 L637.25 406.45 L637.50 406.49 L637.75 405.91 L638.00 405.75 L638.25 405.54 L638.50 405.26 L638.75 405.40 L639.00 405.15 L639.25 405.19 L639.50 404.84 L639.75 404.78 L640.00 405.41 L640.25 405.55 L640.50 405.05 L640.75 404.76 L641.00 404.74 L641.25 404.24 L641.50 404.61 L641.75 404.63 L642.00 404.64 L642.25 404.69 L642.50 404.50 L642.75 404.17 L643.00 403.80 L643.25 403.80 L643.50 403.94 L643.75 404.22 L644.00 404.21 L644.25 403.80 L644.50 403.80 L644.75 403.87 L645.00 403.80 L645.25 404.31 L645.50 403.99 L645.75 404.05 L646.00 403.80 L646.25 404.16 L646.50 403.80 L646.75 403.80 L647.00 404.23 L647.25 403.86 L647.50 403.80 L647.75 404.04 L648.00 404.21 L648.25 403.80 L648.50 404.06 L648.75 404.02 L649.00 404.47 L649.25 403.95 L649.50 404.25 L649.75 404.43 L650.00 404.35 L650.25 404.26 L650.50 404.43 L650.75 404.24 L651.00 404.18 L651.25 403.98 L651.50 404.08 L651.75 404.35 L652.00 403.87 L652.25 403.94 L652.50 404.10 L652.75 404.65 L653.00 404.44 L653.25 404.89 L653.50 404.77 L653.75 404.95 L654.00 405.05 L654.25 405.16 L654.50 405.06 L654.75 404.76 L655.00 405.27 L655.25 405.76 L655.50 405.72 L655.75 405.65 L656.00 405.58 L656.25 405.15 L656.50 404.80 L656.75 404.96 L657.00 405.29 L657.25 405.23 L657.50 404.93 L657.75 404.60 L658.00 404.44 L658.25 404.70 L658.50 404.75 L658.75 404.31 L659.00 403.97 L659.25 404.14 L659.50 404.28 L659.75 404.90 L660.00 405.40 L660.25 405.47 L660.50 405.25 L660.75 405.32 L661.00 404.96 L661.25 404.76 L661.50 405.11 L661.75 405.33 L662.00 405.64 L662.25 406.15 L662.50 405.99 L662.75 406.24 L663.00 406.24 L663.25 406.32 L663.50 406.36 L663.75 406.51 L664.00 406.03 L664.25 405.56 L664.50 405.59 L664.75 405.75 L665.00 405.58 L665.25 405.55 L665.50 405.09 L665.75 405.42 L666.00 405.58 L666.25 406.07 L666.50 405.91 L666.75 405.87 L667.00 405.88 L667.25 406.32 L667.50 406.48 L667.75 406.57 L668.00 406.00 L668.25 405.70 L668.50 405.21 L668.75 405.17 L669.00 405.46 L669.25 405.48 L669.50 405.18 L669.75 405.86 L670.00 405.49 L670.25 405.95 L670.50 406.31 L670.75 406.37 L671.00 406.78 L671.25 406.38 L671.50 406.17 L671.75 406.05 L672.00 406.16 L672.25 406.08 L672.50 406.62 L672.75 406.46 L673.00 406.35 L673.25 405.93 L673.50 406.07 L673.75 406.31 L674.00 406.04 L674.25 405.61 L674.50 405.15 L674.75 405.55 L675.00 405.81 L675.25 405.89 L675.50 406.13 L675.75 406.27 L676.00 406.39 L676.25 405.83 L676.50 405.99 L676.75 406.20 L677.00 406.55 L677.25 406.83 L677.50 406.57 L677.75 406.62 L678.00 406.12 L678.25 406.57 L678.50 406.08 L678.75 406.30 L679.00 406.01 L679.25 405.73 L679.50 405.43 L679.75 405.33 L680.00 405.46 L680.25 405.83 L680.50 405.72 L680.75 406.00 L681.00 406.27 L681.25 406.92 L681.50 406.67 L681.75 406.73 L682.00 406.92 L682.25 406.92 L682.50 407.07 L682.75 406.80 L683.00 406.64 L683.25 406.40 L683.50 406.16 L683.75 405.85 L684.00 405.80 L684.25 405.39 L684.50 405.21 L684.75 405.41 L685.00 404.90 L685.25 404.58 L685.50 404.48 L685.75 404.17 L686.00 403.89 L686.25 404.56 L686.50 404.70 L686.75 404.58 L687.00 404.37 L687.25 403.90 L687.50 403.80 L687.75 403.80 L688.00 404.04 L688.25 403.93 L688.50 404.28 L688.75 404.32 L689.00 403.80 L689.25 404.48 L689.50 404.69 L689.75 405.01 L690.00 404.84 L690.25 404.68 L690.50 404.65 L690.75 405.27 L691.00 404.86 L691.25 404.54 L691.50 404.74 L691.75 404.12 L692.00 404.65 L692.25 404.31 L692.50 404.74 L692.75 404.71 L693.00 404.63 L693.25 404.28 L693.50 404.80 L693.75 404.74 L694.00 404.33 L694.25 404.58 L694.50 404.56 L694.75 404.77 L695.00 404.66 L695.25 404.81 L695.50 404.98 L695.75 405.01 L696.00 404.49 L696.25 404.69 L696.50 405.17 L696.75 405.33 L697.00 405.64 L697.25 405.89 L697.50 405.78 L697.75 406.12 L698.00 406.02 L698.25 405.67 L698.50 405.25 L698.75 405.60 L699.00 405.83 L699.25 406.02 L699.50 405.82 L699.75 405.22 L700.00 405.48 L700.25 405.45 L700.50 405.26 L700.75 405.07 L701.00 404.90 L701.25 404.31 L701.50 404.56 L701.75 404.82 L702.00 405.13 L702.25 405.03 L702.50 404.64 L702.75 404.22 L703.00 404.17 L703.25 404.78 L703.50 405.11 L703.75 405.14 L704.00 405.30 L704.25 405.58 L704.50 405.60 L704.75 405.67 L705.00 405.73 L705.25 405.54 L705.50 405.16 L705.75 404.99 L706.00 405.39 L706.25 404.88 L706.50 404.76 L706.75 404.65 L707.00 404.69 L707.25 404.57 L707.50 404.86 L707.75 404.77 L708.00 404.79 L708.25 405.05 L708.50 404.61 L708.75 405.00 L709.00 405.35 L709.25 404.93 L709.50 404.92 L709.75 404.70 L710.00 404.61 L710.25 404.90 L710.50 404.31 L710.75 404.63 L711.00 404.80 L711.25 404.82 L711.50 405.57 L711.75 405.41 L712.00 404.92" stroke="#0a0a0a" stroke-width="5.6" stroke-linejoin="round"/>
<path d="M534.00 406.72 L534.25 406.60 L534.50 404.56 L534.75 400.86 L535.00 401.50 L535.25 410.10 L535.50 403.05 L535.75 409.25 L536.00 407.70 L536.25 400.81 L536.50 406.57 L536.75 407.58 L537.00 408.52 L537.25 408.94 L537.50 408.83 L537.75 405.63 L538.00 405.17 L538.25 405.37 L538.50 407.55 L538.75 404.19 L539.00 404.19 L539.25 410.80 L539.50 408.70 L539.75 408.98 L540.00 405.83 L540.25 404.39 L540.50 405.63 L540.75 404.67 L541.00 405.36 L541.25 403.69 L541.50 408.79 L541.75 408.15 L542.00 408.72 L542.25 407.15 L542.50 405.12 L542.75 410.80 L543.00 409.14 L543.25 408.32 L543.50 409.15 L543.75 406.23 L544.00 408.57 L544.25 404.94 L544.50 409.59 L544.75 409.22 L545.00 408.96 L545.25 407.34 L545.50 406.26 L545.75 406.19 L546.00 407.58 L546.25 405.17 L546.50 407.89 L546.75 407.82 L547.00 403.78 L547.25 402.41 L547.50 406.68 L547.75 405.38 L548.00 404.00 L548.25 403.09 L548.50 403.71 L548.75 402.46 L549.00 405.51 L549.25 402.79 L549.50 402.19 L549.75 404.76 L550.00 408.12 L550.25 407.53 L550.50 403.84 L550.75 404.98 L551.00 403.68 L551.25 404.45 L551.50 402.57 L551.75 404.24 L552.00 401.95 L552.25 402.89 L552.50 403.81 L552.75 404.65 L553.00 409.23 L553.25 403.01 L553.50 402.46 L553.75 406.59 L554.00 407.00 L554.25 407.49 L554.50 405.70 L554.75 402.23 L555.00 404.64 L555.25 402.11 L555.50 405.52 L555.75 409.16 L556.00 403.65 L556.25 405.19 L556.50 407.87 L556.75 402.28 L557.00 407.32 L557.25 404.56 L557.50 403.61 L557.75 404.53 L558.00 403.26 L558.25 407.31 L558.50 406.14 L558.75 405.11 L559.00 407.30 L559.25 402.40 L559.50 399.60 L559.75 408.73 L560.00 404.41 L560.25 407.70 L560.50 403.74 L560.75 401.76 L561.00 403.66 L561.25 408.32 L561.50 407.83 L561.75 404.94 L562.00 407.87 L562.25 405.27 L562.50 406.30 L562.75 404.29 L563.00 401.00 L563.25 406.25 L563.50 407.77 L563.75 404.24 L564.00 410.14 L564.25 406.65 L564.50 410.29 L564.75 407.50 L565.00 408.38 L565.25 405.22 L565.50 402.61 L565.75 410.72 L566.00 408.41 L566.25 406.96 L566.50 403.30 L566.75 407.38 L567.00 402.68 L567.25 405.49 L567.50 406.85 L567.75 406.03 L568.00 402.24 L568.25 405.42 L568.50 404.28 L568.75 405.04 L569.00 406.61 L569.25 402.78 L569.50 402.55 L569.75 399.60 L570.00 407.98 L570.25 402.84 L570.50 407.99 L570.75 405.97 L571.00 408.28 L571.25 406.62 L571.50 407.05 L571.75 405.28 L572.00 406.55 L572.25 403.05 L572.50 407.55 L572.75 401.39 L573.00 404.17 L573.25 404.65 L573.50 405.37 L573.75 405.27 L574.00 403.20 L574.25 405.54 L574.50 399.60 L574.75 402.95 L575.00 404.53 L575.25 402.56 L575.50 406.77 L575.75 404.27 L576.00 406.23 L576.25 402.79 L576.50 407.73 L576.75 407.76 L577.00 402.60 L577.25 409.74 L577.50 403.82 L577.75 403.82 L578.00 408.13 L578.25 410.39 L578.50 408.09 L578.75 406.05 L579.00 404.33 L579.25 404.25 L579.50 406.49 L579.75 406.79 L580.00 403.45 L580.25 406.54 L580.50 400.33 L580.75 404.99 L581.00 402.23 L581.25 401.92 L581.50 409.21 L581.75 405.77 L582.00 404.29 L582.25 402.76 L582.50 408.78 L582.75 405.72 L583.00 403.34 L583.25 400.63 L583.50 408.20 L583.75 407.87 L584.00 407.82 L584.25 404.49 L584.50 402.72 L584.75 409.07 L585.00 405.69 L585.25 408.00 L585.50 400.25 L585.75 405.12 L586.00 407.02 L586.25 405.30 L586.50 409.36 L586.75 407.34 L587.00 408.06 L587.25 407.32 L587.50 405.27 L587.75 404.48 L588.00 404.58 L588.25 408.80 L588.50 405.27 L588.75 400.94 L589.00 405.90 L589.25 405.88 L589.50 403.99 L589.75 405.44 L590.00 402.83 L590.25 410.80 L590.50 403.57 L590.75 402.40 L591.00 405.36 L591.25 405.17 L591.50 406.37 L591.75 404.56 L592.00 405.25 L592.25 403.71 L592.50 403.06 L592.75 401.27 L593.00 402.08 L593.25 404.41 L593.50 401.40 L593.75 406.39 L594.00 404.30 L594.25 406.92 L594.50 406.14 L594.75 403.67 L595.00 410.80 L595.25 407.83 L595.50 402.97 L595.75 405.64 L596.00 403.19 L596.25 402.41 L596.50 404.65 L596.75 403.98 L597.00 407.06 L597.25 401.55 L597.50 406.00 L597.75 408.89 L598.00 406.43 L598.25 409.95 L598.50 409.86 L598.75 403.01 L599.00 404.82 L599.25 404.13 L599.50 409.14 L599.75 404.48 L600.00 400.83 L600.25 404.76 L600.50 405.72 L600.75 406.47 L601.00 406.54 L601.25 407.33 L601.50 405.31 L601.75 407.17 L602.00 406.20 L602.25 406.06 L602.50 405.92 L602.75 408.61 L603.00 407.19 L603.25 408.26 L603.50 404.83 L603.75 402.81 L604.00 406.52 L604.25 409.16 L604.50 407.16 L604.75 406.02 L605.00 403.63 L605.25 407.71 L605.50 405.36 L605.75 403.41 L606.00 408.05 L606.25 407.39 L606.50 409.91 L606.75 403.97 L607.00 404.00 L607.25 407.43 L607.50 410.80 L607.75 407.68 L608.00 407.98 L608.25 403.54 L608.50 407.14 L608.75 403.19 L609.00 402.56 L609.25 407.69 L609.50 408.54 L609.75 404.31 L610.00 406.41 L610.25 407.59 L610.50 405.59 L610.75 406.08 L611.00 406.97 L611.25 403.60 L611.50 403.65 L611.75 406.81 L612.00 410.80 L612.25 405.38 L612.50 405.83 L612.75 410.80 L613.00 405.60 L613.25 404.80 L613.50 410.80 L613.75 408.13 L614.00 408.38 L614.25 401.37 L614.50 408.87 L614.75 405.11 L615.00 408.05 L615.25 406.72 L615.50 409.65 L615.75 407.67 L616.00 409.79 L616.25 404.58 L616.50 408.67 L616.75 407.42 L617.00 405.20 L617.25 403.38 L617.50 405.89 L617.75 404.17 L618.00 405.11 L618.25 405.09 L618.50 405.07 L618.75 406.88 L619.00 406.72 L619.25 403.63 L619.50 404.22 L619.75 406.60 L620.00 405.26 L620.25 405.15 L620.50 403.64 L620.75 401.86 L621.00 405.39 L621.25 403.21 L621.50 405.91 L621.75 405.68 L622.00 405.43 L622.25 408.46 L622.50 404.26 L622.75 409.09 L623.00 407.07 L623.25 410.80 L623.50 403.94 L623.75 404.08 L624.00 406.84 L624.25 408.29 L624.50 406.05 L624.75 407.79 L625.00 406.14 L625.25 402.34 L625.50 406.48 L625.75 407.03 L626.00 405.29 L626.25 404.04 L626.50 402.61 L626.75 406.31 L627.00 408.67 L627.25 401.89 L627.50 406.56 L627.75 400.97 L628.00 405.31 L628.25 399.60 L628.50 404.39 L628.75 405.97 L629.00 401.07 L629.25 401.20 L629.50 404.96 L629.75 403.97 L630.00 405.46 L630.25 407.82 L630.50 402.38 L630.75 405.64 L631.00 400.73 L631.25 399.60 L631.50 402.67 L631.75 399.60 L632.00 406.21 L632.25 407.27 L632.50 406.59 L632.75 402.04 L633.00 404.16 L633.25 401.66 L633.50 405.21 L633.75 403.36 L634.00 407.86 L634.25 406.51 L634.50 403.11 L634.75 409.49 L635.00 406.61 L635.25 408.26 L635.50 406.64 L635.75 409.36 L636.00 409.29 L636.25 408.23 L636.50 409.77 L636.75 408.12 L637.00 406.94 L637.25 404.68 L637.50 401.57 L637.75 408.77 L638.00 407.13 L638.25 402.98 L638.50 407.18 L638.75 405.78 L639.00 405.35 L639.25 409.45 L639.50 407.14 L639.75 401.62 L640.00 405.60 L640.25 407.90 L640.50 407.65 L640.75 406.00 L641.00 403.85 L641.25 405.09 L641.50 400.22 L641.75 407.60 L642.00 404.50 L642.25 403.40 L642.50 402.83 L642.75 404.55 L643.00 401.85 L643.25 401.50 L643.50 401.68 L643.75 408.26 L644.00 403.94 L644.25 404.98 L644.50 404.61 L644.75 402.43 L645.00 405.61 L645.25 403.94 L645.50 402.25 L645.75 401.69 L646.00 402.89 L646.25 403.04 L646.50 406.90 L646.75 399.60 L647.00 406.81 L647.25 407.25 L647.50 407.37 L647.75 402.38 L648.00 402.28 L648.25 406.73 L648.50 405.62 L648.75 404.72 L649.00 402.46 L649.25 403.28 L649.50 401.50 L649.75 408.28 L650.00 406.80 L650.25 403.26 L650.50 406.86 L650.75 404.58 L651.00 399.60 L651.25 405.31 L651.50 402.33 L651.75 405.11 L652.00 402.79 L652.25 401.62 L652.50 403.32 L652.75 407.10 L653.00 401.69 L653.25 402.62 L653.50 401.24 L653.75 403.52 L654.00 407.09 L654.25 406.86 L654.50 406.35 L654.75 405.92 L655.00 408.81 L655.25 409.27 L655.50 409.42 L655.75 403.63 L656.00 404.11 L656.25 406.98 L656.50 406.50 L656.75 403.78 L657.00 404.79 L657.25 407.38 L657.50 404.61 L657.75 402.88 L658.00 405.19 L658.25 403.41 L658.50 406.07 L658.75 404.85 L659.00 403.27 L659.25 402.09 L659.50 406.62 L659.75 402.88 L660.00 405.66 L660.25 404.64 L660.50 405.33 L660.75 404.46 L661.00 407.26 L661.25 405.01 L661.50 402.69 L661.75 402.44 L662.00 407.34 L662.25 405.66 L662.50 408.86 L662.75 407.32 L663.00 409.23 L663.25 403.07 L663.50 405.55 L663.75 409.40 L664.00 403.13 L664.25 407.23 L664.50 405.47 L664.75 408.14 L665.00 404.87 L665.25 403.86 L665.50 406.97 L665.75 410.45 L666.00 402.86 L666.25 406.73 L666.50 404.08 L666.75 407.01 L667.00 406.94 L667.25 404.64 L667.50 403.31 L667.75 406.75 L668.00 406.08 L668.25 407.79 L668.50 405.15 L668.75 407.65 L669.00 406.13 L669.25 408.93 L669.50 407.62 L669.75 402.75 L670.00 404.91 L670.25 407.01 L670.50 405.79 L670.75 407.25 L671.00 410.73 L671.25 404.45 L671.50 404.63 L671.75 404.08 L672.00 408.67 L672.25 410.80 L672.50 404.71 L672.75 410.80 L673.00 403.19 L673.25 406.30 L673.50 406.47 L673.75 407.14 L674.00 404.52 L674.25 403.05 L674.50 404.80 L674.75 408.00 L675.00 405.40 L675.25 406.92 L675.50 407.29 L675.75 409.75 L676.00 403.98 L676.25 409.61 L676.50 410.54 L676.75 403.63 L677.00 409.23 L677.25 402.66 L677.50 404.77 L677.75 406.05 L678.00 406.15 L678.25 402.37 L678.50 404.49 L678.75 402.65 L679.00 408.30 L679.25 403.68 L679.50 406.14 L679.75 404.28 L680.00 406.74 L680.25 400.01 L680.50 405.70 L680.75 402.69 L681.00 404.14 L681.25 407.86 L681.50 408.67 L681.75 404.75 L682.00 405.83 L682.25 410.80 L682.50 407.33 L682.75 409.13 L683.00 409.09 L683.25 408.29 L683.50 405.93 L683.75 405.59 L684.00 407.85 L684.25 399.60 L684.50 403.53 L684.75 406.47 L685.00 406.26 L685.25 406.05 L685.50 403.36 L685.75 402.34 L686.00 400.70 L686.25 405.10 L686.50 404.70 L686.75 404.87 L687.00 399.60 L687.25 403.02 L687.50 401.37 L687.75 406.07 L688.00 405.71 L688.25 405.50 L688.50 405.58 L688.75 407.02 L689.00 404.41 L689.25 402.64 L689.50 405.07 L689.75 405.16 L690.00 405.68 L690.25 405.86 L690.50 404.86 L690.75 405.86 L691.00 404.80 L691.25 404.00 L691.50 402.26 L691.75 402.45 L692.00 403.63 L692.25 408.45 L692.50 404.24 L692.75 402.70 L693.00 406.01 L693.25 405.45 L693.50 404.14 L693.75 406.98 L694.00 402.05 L694.25 401.99 L694.50 403.40 L694.75 403.92 L695.00 404.12 L695.25 404.82 L695.50 407.13 L695.75 405.18 L696.00 405.45 L696.25 404.13 L696.50 402.83 L696.75 405.20 L697.00 403.35 L697.25 407.50 L697.50 405.16 L697.75 403.71 L698.00 405.83 L698.25 405.98 L698.50 404.08 L698.75 403.18 L699.00 405.11 L699.25 404.84 L699.50 404.64 L699.75 399.60 L700.00 403.71 L700.25 410.36 L700.50 408.96 L700.75 407.52 L701.00 404.38 L701.25 406.66 L701.50 405.87 L701.75 404.92 L702.00 405.11 L702.25 405.10 L702.50 400.64 L702.75 406.56 L703.00 406.24 L703.25 405.41 L703.50 405.96 L703.75 403.22 L704.00 405.05 L704.25 404.06 L704.50 403.23 L704.75 406.34 L705.00 410.80 L705.25 409.67 L705.50 405.32 L705.75 404.01 L706.00 410.21 L706.25 402.88 L706.50 403.17 L706.75 405.61 L707.00 409.12 L707.25 408.24 L707.50 400.30 L707.75 400.34 L708.00 402.00 L708.25 407.74 L708.50 402.51 L708.75 403.34 L709.00 408.01 L709.25 402.60 L709.50 408.43 L709.75 400.33 L710.00 403.10 L710.25 407.90 L710.50 401.89 L710.75 405.23 L711.00 406.79 L711.25 406.61 L711.50 406.63 L711.75 406.47 L712.00 406.55" stroke="#0a0a0a" stroke-width="0.9" stroke-linejoin="round"/>
<path d="M546.20 404.5 L546.80 380.50 L547.15 335.50 L547.45 307.60 L548.95 307.60 L549.25 335.50 L549.60 380.50 L550.20 404.5Z" fill="#0a0a0a"/>
<path d="M576.00 404.5 L576.60 381.65 L576.95 336.65 L577.25 309.90 L578.75 309.90 L579.05 336.65 L579.40 381.65 L580.00 404.5Z" fill="#0a0a0a"/>
<path d="M605.60 404.5 L606.20 380.50 L606.55 335.50 L606.85 307.60 L608.35 307.60 L608.65 335.50 L609.00 380.50 L609.60 404.5Z" fill="#0a0a0a"/>
<path d="M635.30 404.5 L635.90 379.80 L636.25 334.80 L636.55 306.20 L638.05 306.20 L638.35 334.80 L638.70 379.80 L639.30 404.5Z" fill="#0a0a0a"/>
<path d="M664.90 404.5 L665.50 381.65 L665.85 336.65 L666.15 309.90 L667.65 309.90 L667.95 336.65 L668.30 381.65 L668.90 404.5Z" fill="#0a0a0a"/>
<path d="M694.60 404.5 L695.20 381.65 L695.55 336.65 L695.85 309.90 L697.35 309.90 L697.65 336.65 L698.00 381.65 L698.60 404.5Z" fill="#0a0a0a"/>
<text x="597.6" y="434.7" font-size="11.5" class="sf" fill="#2a2a2a">φ</text>
<text x="607.3" y="434.7" font-size="12.4" fill="#2a2a2a">(degree)</text>
<text transform="translate(502.9 347.2) rotate(-90)" font-size="12.6" text-anchor="middle" fill="#2a2a2a">X-ray intensity (a.u.)</text>
</svg>
</body></html>
